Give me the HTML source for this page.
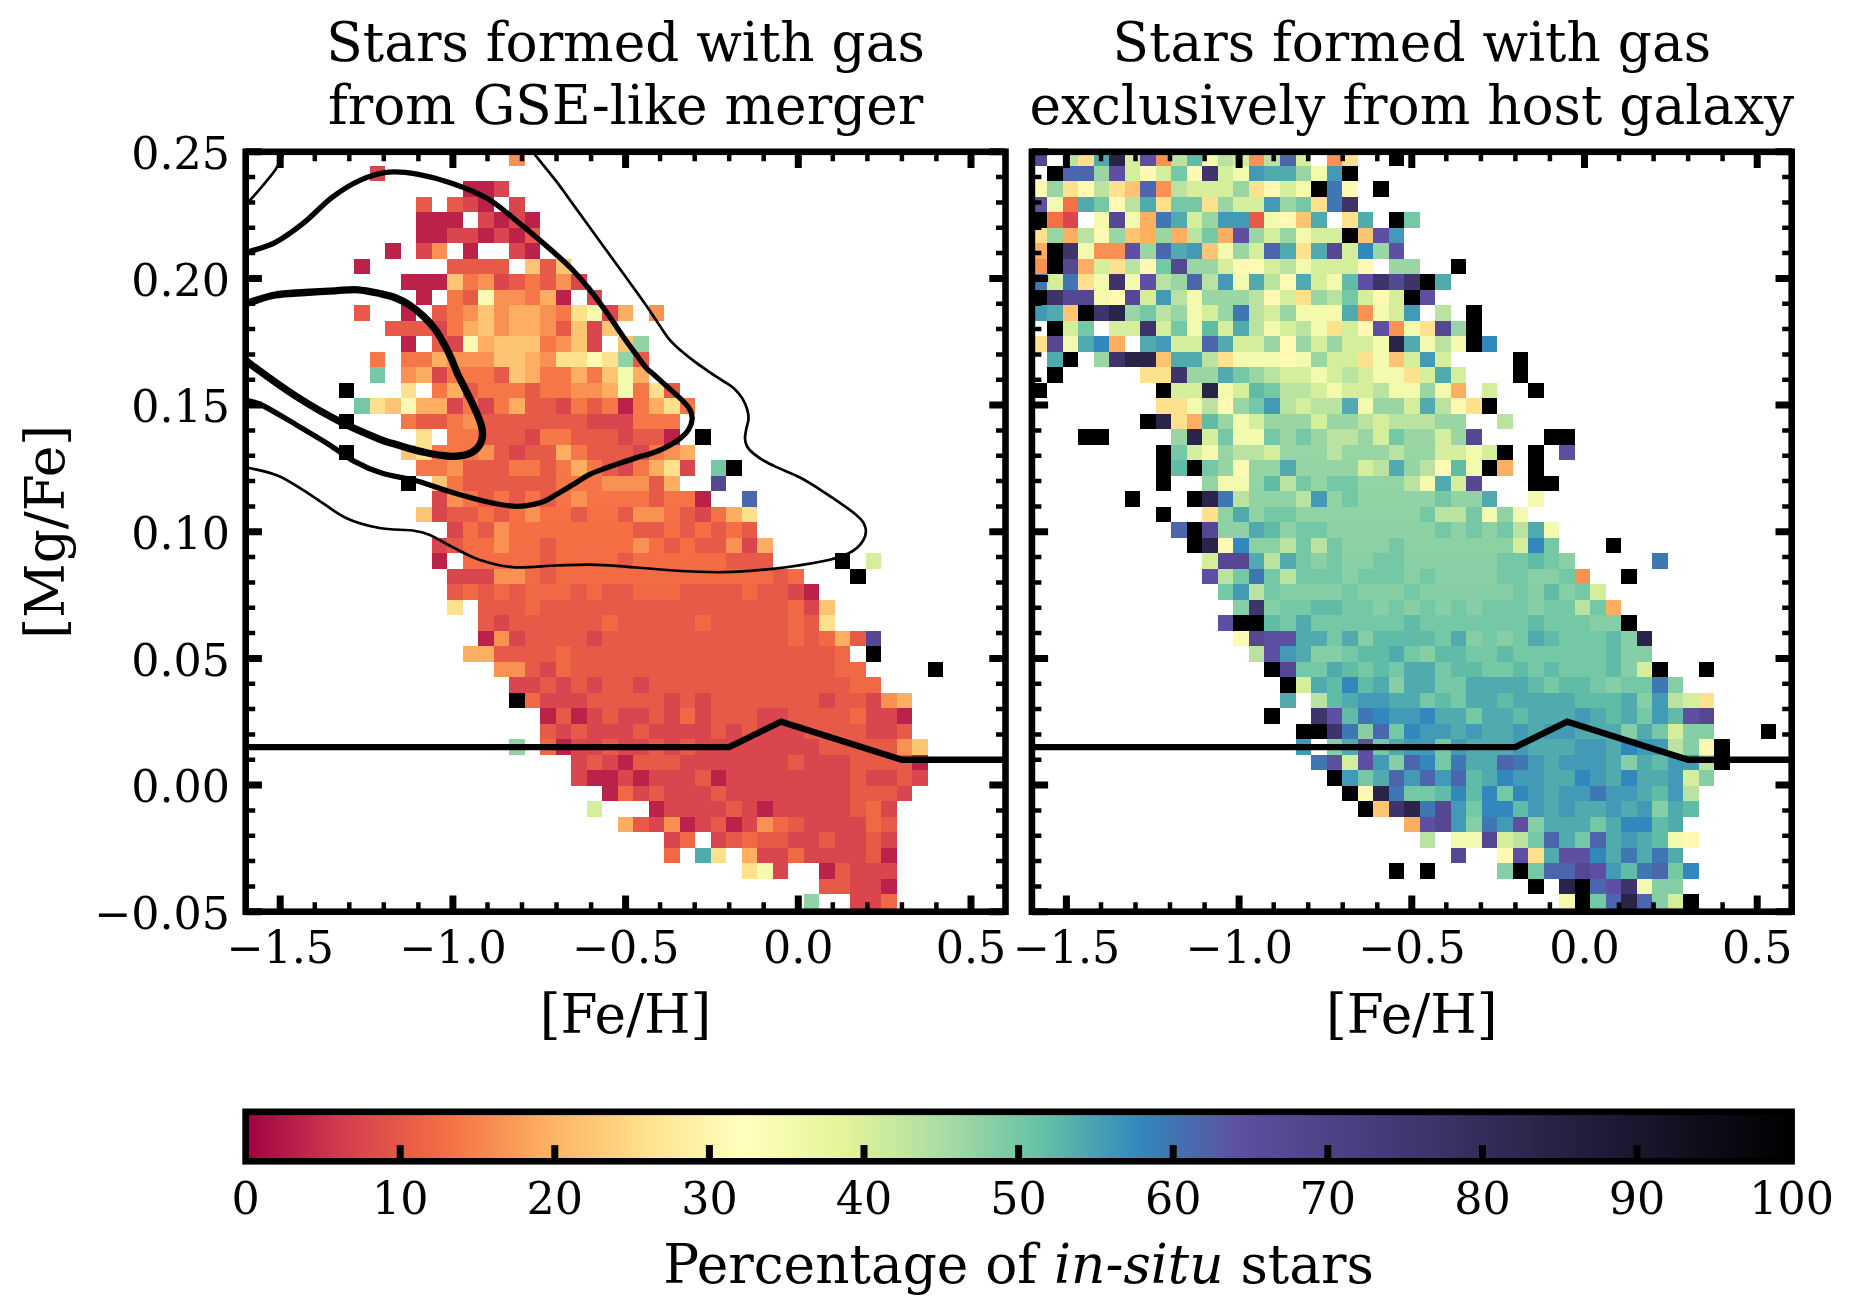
<!DOCTYPE html>
<html><head><meta charset="utf-8"><title>Figure</title>
<style>html,body{margin:0;padding:0;background:#fff}svg{display:block}text{font-family:"DejaVu Serif", "Liberation Serif", serif;fill:#000}</style>
</head><body>
<svg width="1864" height="1303" viewBox="0 0 1864 1303" style="will-change:transform">
<rect width="1864" height="1303" fill="#fff"/>
<text x="625.6" y="60.8" text-anchor="middle" font-size="53.3">Stars formed with gas</text>
<text x="625.6" y="123.8" text-anchor="middle" font-size="53.3">from GSE-like merger</text>
<text x="1411.8" y="60.8" text-anchor="middle" font-size="53.3">Stars formed with gas</text>
<text x="1411.8" y="123.8" text-anchor="middle" font-size="53.3">exclusively from host galaxy</text>
<text transform="translate(63.8 531.8) rotate(-90)" text-anchor="middle" font-size="53.3">[Mg/Fe]</text>
<clipPath id="c1"><rect x="245.7" y="151.8" width="759.8" height="759.9"/></clipPath>
<clipPath id="c2"><rect x="1031.9" y="151.8" width="759.8" height="759.9"/></clipPath>
<g shape-rendering="crispEdges" clip-path="url(#c1)"><rect x="509" y="150" width="16" height="16" fill="#f99153"/>
<rect x="370" y="166" width="15" height="15" fill="#da464d"/>
<rect x="463" y="181" width="31" height="16" fill="#bb2149"/>
<rect x="494" y="181" width="15" height="16" fill="#da464d"/>
<rect x="416" y="197" width="16" height="15" fill="#e75a48"/>
<rect x="447" y="197" width="16" height="15" fill="#e75a48"/>
<rect x="463" y="197" width="15" height="15" fill="#da464d"/>
<rect x="478" y="197" width="16" height="15" fill="#bb2149"/>
<rect x="509" y="197" width="16" height="15" fill="#da464d"/>
<rect x="416" y="212" width="47" height="16" fill="#bb2149"/>
<rect x="478" y="212" width="16" height="16" fill="#da464d"/>
<rect x="494" y="212" width="15" height="16" fill="#bb2149"/>
<rect x="509" y="212" width="16" height="16" fill="#da464d"/>
<rect x="525" y="212" width="15" height="16" fill="#bb2149"/>
<rect x="416" y="228" width="31" height="15" fill="#bb2149"/>
<rect x="447" y="228" width="31" height="15" fill="#da464d"/>
<rect x="478" y="228" width="16" height="15" fill="#bb2149"/>
<rect x="494" y="228" width="15" height="15" fill="#da464d"/>
<rect x="509" y="228" width="16" height="15" fill="#bb2149"/>
<rect x="525" y="228" width="15" height="15" fill="#e75a48"/>
<rect x="385" y="243" width="16" height="16" fill="#bb2149"/>
<rect x="416" y="243" width="16" height="16" fill="#da464d"/>
<rect x="432" y="243" width="15" height="16" fill="#f99153"/>
<rect x="463" y="243" width="15" height="16" fill="#bb2149"/>
<rect x="509" y="243" width="16" height="16" fill="#da464d"/>
<rect x="525" y="243" width="15" height="16" fill="#bb2149"/>
<rect x="354" y="259" width="16" height="15" fill="#bb2149"/>
<rect x="447" y="259" width="62" height="15" fill="#e75a48"/>
<rect x="525" y="259" width="15" height="15" fill="#fdc474"/>
<rect x="540" y="259" width="16" height="15" fill="#e75a48"/>
<rect x="556" y="259" width="15" height="15" fill="#fdc474"/>
<rect x="401" y="274" width="46" height="16" fill="#bb2149"/>
<rect x="447" y="274" width="16" height="16" fill="#fdc474"/>
<rect x="463" y="274" width="15" height="16" fill="#f57647"/>
<rect x="478" y="274" width="16" height="16" fill="#f99153"/>
<rect x="494" y="274" width="15" height="16" fill="#da464d"/>
<rect x="509" y="274" width="16" height="16" fill="#e75a48"/>
<rect x="525" y="274" width="15" height="16" fill="#f57647"/>
<rect x="540" y="274" width="16" height="16" fill="#e75a48"/>
<rect x="556" y="274" width="15" height="16" fill="#f99153"/>
<rect x="571" y="274" width="16" height="16" fill="#da464d"/>
<rect x="416" y="290" width="16" height="15" fill="#bb2149"/>
<rect x="447" y="290" width="16" height="15" fill="#f57647"/>
<rect x="463" y="290" width="15" height="15" fill="#e75a48"/>
<rect x="478" y="290" width="16" height="15" fill="#fff9b4"/>
<rect x="494" y="290" width="31" height="15" fill="#f99153"/>
<rect x="525" y="290" width="15" height="15" fill="#f57647"/>
<rect x="540" y="290" width="16" height="15" fill="#fdae61"/>
<rect x="556" y="290" width="15" height="15" fill="#bb2149"/>
<rect x="587" y="290" width="15" height="15" fill="#da464d"/>
<rect x="354" y="305" width="16" height="16" fill="#e75a48"/>
<rect x="401" y="305" width="15" height="16" fill="#bb2149"/>
<rect x="432" y="305" width="15" height="16" fill="#e75a48"/>
<rect x="447" y="305" width="16" height="16" fill="#f57647"/>
<rect x="463" y="305" width="15" height="16" fill="#f99153"/>
<rect x="478" y="305" width="16" height="16" fill="#fdc474"/>
<rect x="494" y="305" width="15" height="16" fill="#f99153"/>
<rect x="509" y="305" width="31" height="16" fill="#fdae61"/>
<rect x="540" y="305" width="16" height="16" fill="#f99153"/>
<rect x="556" y="305" width="15" height="16" fill="#f57647"/>
<rect x="571" y="305" width="16" height="16" fill="#fee18d"/>
<rect x="587" y="305" width="15" height="16" fill="#f3faad"/>
<rect x="602" y="305" width="16" height="16" fill="#da464d"/>
<rect x="618" y="305" width="15" height="16" fill="#fdae61"/>
<rect x="649" y="305" width="15" height="16" fill="#f99153"/>
<rect x="385" y="321" width="47" height="15" fill="#e75a48"/>
<rect x="432" y="321" width="15" height="15" fill="#da464d"/>
<rect x="447" y="321" width="16" height="15" fill="#f57647"/>
<rect x="463" y="321" width="15" height="15" fill="#fdae61"/>
<rect x="478" y="321" width="16" height="15" fill="#fdc474"/>
<rect x="494" y="321" width="15" height="15" fill="#f99153"/>
<rect x="509" y="321" width="31" height="15" fill="#fdae61"/>
<rect x="540" y="321" width="16" height="15" fill="#f99153"/>
<rect x="556" y="321" width="15" height="15" fill="#e75a48"/>
<rect x="571" y="321" width="16" height="15" fill="#fdc474"/>
<rect x="587" y="321" width="15" height="15" fill="#da464d"/>
<rect x="602" y="321" width="16" height="15" fill="#fdc474"/>
<rect x="401" y="336" width="15" height="16" fill="#bb2149"/>
<rect x="432" y="336" width="15" height="16" fill="#e75a48"/>
<rect x="447" y="336" width="16" height="16" fill="#da464d"/>
<rect x="463" y="336" width="15" height="16" fill="#fff9b4"/>
<rect x="478" y="336" width="16" height="16" fill="#fdae61"/>
<rect x="494" y="336" width="46" height="16" fill="#fdc474"/>
<rect x="540" y="336" width="16" height="16" fill="#f57647"/>
<rect x="556" y="336" width="15" height="16" fill="#f99153"/>
<rect x="571" y="336" width="16" height="16" fill="#fdc474"/>
<rect x="587" y="336" width="15" height="16" fill="#da464d"/>
<rect x="618" y="336" width="15" height="16" fill="#fdc474"/>
<rect x="633" y="336" width="16" height="16" fill="#91d3a4"/>
<rect x="370" y="352" width="15" height="15" fill="#f57647"/>
<rect x="401" y="352" width="31" height="15" fill="#f57647"/>
<rect x="432" y="352" width="15" height="15" fill="#fdae61"/>
<rect x="447" y="352" width="47" height="15" fill="#f99153"/>
<rect x="494" y="352" width="31" height="15" fill="#fdc474"/>
<rect x="525" y="352" width="15" height="15" fill="#fdae61"/>
<rect x="540" y="352" width="16" height="15" fill="#f99153"/>
<rect x="556" y="352" width="31" height="15" fill="#fee18d"/>
<rect x="587" y="352" width="15" height="15" fill="#fff9b4"/>
<rect x="602" y="352" width="16" height="15" fill="#fee18d"/>
<rect x="618" y="352" width="15" height="15" fill="#91d3a4"/>
<rect x="633" y="352" width="16" height="15" fill="#e75a48"/>
<rect x="370" y="367" width="15" height="16" fill="#75c8a5"/>
<rect x="401" y="367" width="15" height="16" fill="#f99153"/>
<rect x="416" y="367" width="16" height="16" fill="#fdae61"/>
<rect x="432" y="367" width="15" height="16" fill="#da464d"/>
<rect x="447" y="367" width="47" height="16" fill="#f57647"/>
<rect x="494" y="367" width="15" height="16" fill="#e75a48"/>
<rect x="509" y="367" width="16" height="16" fill="#fdc474"/>
<rect x="525" y="367" width="15" height="16" fill="#fdae61"/>
<rect x="540" y="367" width="31" height="16" fill="#f57647"/>
<rect x="571" y="367" width="16" height="16" fill="#fdae61"/>
<rect x="587" y="367" width="15" height="16" fill="#f57647"/>
<rect x="602" y="367" width="16" height="16" fill="#fdc474"/>
<rect x="618" y="367" width="15" height="16" fill="#f3faad"/>
<rect x="633" y="367" width="16" height="16" fill="#fdae61"/>
<rect x="339" y="383" width="15" height="15" fill="#000000"/>
<rect x="401" y="383" width="15" height="15" fill="#fee18d"/>
<rect x="432" y="383" width="15" height="15" fill="#f57647"/>
<rect x="447" y="383" width="16" height="15" fill="#fdae61"/>
<rect x="463" y="383" width="15" height="15" fill="#e75a48"/>
<rect x="478" y="383" width="47" height="15" fill="#f57647"/>
<rect x="525" y="383" width="15" height="15" fill="#e75a48"/>
<rect x="540" y="383" width="31" height="15" fill="#f57647"/>
<rect x="571" y="383" width="31" height="15" fill="#f99153"/>
<rect x="602" y="383" width="16" height="15" fill="#fdae61"/>
<rect x="618" y="383" width="15" height="15" fill="#f3faad"/>
<rect x="633" y="383" width="16" height="15" fill="#f57647"/>
<rect x="649" y="383" width="15" height="15" fill="#fee18d"/>
<rect x="664" y="383" width="16" height="15" fill="#e75a48"/>
<rect x="354" y="398" width="16" height="16" fill="#75c8a5"/>
<rect x="370" y="398" width="15" height="16" fill="#fee18d"/>
<rect x="385" y="398" width="16" height="16" fill="#fdc474"/>
<rect x="401" y="398" width="15" height="16" fill="#fff9b4"/>
<rect x="416" y="398" width="31" height="16" fill="#fdae61"/>
<rect x="447" y="398" width="16" height="16" fill="#da464d"/>
<rect x="463" y="398" width="15" height="16" fill="#f57647"/>
<rect x="478" y="398" width="16" height="16" fill="#da464d"/>
<rect x="494" y="398" width="15" height="16" fill="#f57647"/>
<rect x="509" y="398" width="16" height="16" fill="#fdae61"/>
<rect x="525" y="398" width="31" height="16" fill="#e75a48"/>
<rect x="556" y="398" width="15" height="16" fill="#da464d"/>
<rect x="571" y="398" width="16" height="16" fill="#f57647"/>
<rect x="587" y="398" width="15" height="16" fill="#e75a48"/>
<rect x="602" y="398" width="16" height="16" fill="#f57647"/>
<rect x="618" y="398" width="15" height="16" fill="#bb2149"/>
<rect x="633" y="398" width="16" height="16" fill="#f57647"/>
<rect x="649" y="398" width="15" height="16" fill="#fdae61"/>
<rect x="664" y="398" width="16" height="16" fill="#fee18d"/>
<rect x="680" y="398" width="15" height="16" fill="#f57647"/>
<rect x="339" y="414" width="15" height="15" fill="#000000"/>
<rect x="401" y="414" width="15" height="15" fill="#f57647"/>
<rect x="416" y="414" width="31" height="15" fill="#e75a48"/>
<rect x="447" y="414" width="16" height="15" fill="#f57647"/>
<rect x="463" y="414" width="15" height="15" fill="#f99153"/>
<rect x="478" y="414" width="109" height="15" fill="#e75a48"/>
<rect x="587" y="414" width="46" height="15" fill="#da464d"/>
<rect x="633" y="414" width="47" height="15" fill="#f57647"/>
<rect x="416" y="429" width="16" height="16" fill="#fee18d"/>
<rect x="447" y="429" width="31" height="16" fill="#f57647"/>
<rect x="478" y="429" width="47" height="16" fill="#e75a48"/>
<rect x="525" y="429" width="15" height="16" fill="#da464d"/>
<rect x="540" y="429" width="31" height="16" fill="#f57647"/>
<rect x="571" y="429" width="47" height="16" fill="#e75a48"/>
<rect x="618" y="429" width="15" height="16" fill="#da464d"/>
<rect x="633" y="429" width="31" height="16" fill="#e75a48"/>
<rect x="664" y="429" width="16" height="16" fill="#bb2149"/>
<rect x="695" y="429" width="16" height="16" fill="#000000"/>
<rect x="339" y="445" width="15" height="15" fill="#000000"/>
<rect x="401" y="445" width="15" height="15" fill="#fdc474"/>
<rect x="416" y="445" width="16" height="15" fill="#fee18d"/>
<rect x="432" y="445" width="46" height="15" fill="#f57647"/>
<rect x="478" y="445" width="16" height="15" fill="#f99153"/>
<rect x="494" y="445" width="15" height="15" fill="#e75a48"/>
<rect x="509" y="445" width="16" height="15" fill="#da464d"/>
<rect x="525" y="445" width="31" height="15" fill="#e75a48"/>
<rect x="556" y="445" width="15" height="15" fill="#fdae61"/>
<rect x="571" y="445" width="16" height="15" fill="#f57647"/>
<rect x="587" y="445" width="46" height="15" fill="#e75a48"/>
<rect x="633" y="445" width="16" height="15" fill="#da464d"/>
<rect x="649" y="445" width="15" height="15" fill="#f57647"/>
<rect x="664" y="445" width="16" height="15" fill="#f99153"/>
<rect x="680" y="445" width="15" height="15" fill="#fdae61"/>
<rect x="416" y="460" width="31" height="16" fill="#f57647"/>
<rect x="447" y="460" width="16" height="16" fill="#f99153"/>
<rect x="463" y="460" width="46" height="16" fill="#e75a48"/>
<rect x="509" y="460" width="31" height="16" fill="#f57647"/>
<rect x="540" y="460" width="16" height="16" fill="#e75a48"/>
<rect x="556" y="460" width="15" height="16" fill="#f57647"/>
<rect x="571" y="460" width="16" height="16" fill="#fdae61"/>
<rect x="587" y="460" width="15" height="16" fill="#f57647"/>
<rect x="602" y="460" width="16" height="16" fill="#e75a48"/>
<rect x="618" y="460" width="15" height="16" fill="#da464d"/>
<rect x="633" y="460" width="16" height="16" fill="#f57647"/>
<rect x="649" y="460" width="15" height="16" fill="#fdae61"/>
<rect x="664" y="460" width="16" height="16" fill="#fee18d"/>
<rect x="680" y="460" width="15" height="16" fill="#da464d"/>
<rect x="711" y="460" width="15" height="16" fill="#75c8a5"/>
<rect x="726" y="460" width="16" height="16" fill="#000000"/>
<rect x="401" y="476" width="15" height="15" fill="#000000"/>
<rect x="432" y="476" width="15" height="15" fill="#fdc474"/>
<rect x="447" y="476" width="16" height="15" fill="#f57546"/>
<rect x="463" y="476" width="93" height="15" fill="#e75a48"/>
<rect x="556" y="476" width="46" height="15" fill="#f57546"/>
<rect x="602" y="476" width="47" height="15" fill="#f99153"/>
<rect x="649" y="476" width="15" height="15" fill="#e75a48"/>
<rect x="664" y="476" width="16" height="15" fill="#fdae61"/>
<rect x="711" y="476" width="15" height="15" fill="#554792"/>
<rect x="432" y="491" width="15" height="16" fill="#da464d"/>
<rect x="447" y="491" width="16" height="16" fill="#f99153"/>
<rect x="463" y="491" width="15" height="16" fill="#f57346"/>
<rect x="478" y="491" width="16" height="16" fill="#e75a48"/>
<rect x="494" y="491" width="15" height="16" fill="#f57346"/>
<rect x="509" y="491" width="16" height="16" fill="#e75a48"/>
<rect x="525" y="491" width="15" height="16" fill="#f57346"/>
<rect x="540" y="491" width="16" height="16" fill="#e75a48"/>
<rect x="556" y="491" width="15" height="16" fill="#f57346"/>
<rect x="571" y="491" width="16" height="16" fill="#f99153"/>
<rect x="587" y="491" width="62" height="16" fill="#f57346"/>
<rect x="649" y="491" width="15" height="16" fill="#e75a48"/>
<rect x="664" y="491" width="31" height="16" fill="#f57346"/>
<rect x="695" y="491" width="16" height="16" fill="#bb2149"/>
<rect x="742" y="491" width="15" height="16" fill="#4c66ad"/>
<rect x="416" y="507" width="16" height="15" fill="#fdc474"/>
<rect x="432" y="507" width="15" height="15" fill="#da464d"/>
<rect x="447" y="507" width="31" height="15" fill="#e75a48"/>
<rect x="478" y="507" width="16" height="15" fill="#f57145"/>
<rect x="494" y="507" width="15" height="15" fill="#e75a48"/>
<rect x="509" y="507" width="16" height="15" fill="#f57145"/>
<rect x="525" y="507" width="15" height="15" fill="#f99153"/>
<rect x="540" y="507" width="31" height="15" fill="#f57145"/>
<rect x="571" y="507" width="16" height="15" fill="#e75a48"/>
<rect x="587" y="507" width="31" height="15" fill="#f57145"/>
<rect x="618" y="507" width="15" height="15" fill="#e75a48"/>
<rect x="633" y="507" width="31" height="15" fill="#f99153"/>
<rect x="664" y="507" width="16" height="15" fill="#f57145"/>
<rect x="680" y="507" width="15" height="15" fill="#e75a48"/>
<rect x="695" y="507" width="16" height="15" fill="#da464d"/>
<rect x="711" y="507" width="15" height="15" fill="#f57145"/>
<rect x="726" y="507" width="16" height="15" fill="#fdae61"/>
<rect x="742" y="507" width="15" height="15" fill="#fee18d"/>
<rect x="447" y="522" width="16" height="16" fill="#da464d"/>
<rect x="463" y="522" width="15" height="16" fill="#f46f44"/>
<rect x="478" y="522" width="16" height="16" fill="#e75a48"/>
<rect x="494" y="522" width="15" height="16" fill="#f99153"/>
<rect x="509" y="522" width="124" height="16" fill="#f46f44"/>
<rect x="633" y="522" width="31" height="16" fill="#e75a48"/>
<rect x="664" y="522" width="16" height="16" fill="#f46f44"/>
<rect x="680" y="522" width="15" height="16" fill="#e75a48"/>
<rect x="695" y="522" width="16" height="16" fill="#f46f44"/>
<rect x="711" y="522" width="15" height="16" fill="#e75a48"/>
<rect x="726" y="522" width="16" height="16" fill="#f46f44"/>
<rect x="742" y="522" width="15" height="16" fill="#e75a48"/>
<rect x="432" y="538" width="15" height="15" fill="#da464d"/>
<rect x="447" y="538" width="16" height="15" fill="#e75a48"/>
<rect x="463" y="538" width="31" height="15" fill="#f46d43"/>
<rect x="494" y="538" width="15" height="15" fill="#f99153"/>
<rect x="509" y="538" width="31" height="15" fill="#f46d43"/>
<rect x="540" y="538" width="16" height="15" fill="#e75a48"/>
<rect x="556" y="538" width="77" height="15" fill="#f46d43"/>
<rect x="633" y="538" width="16" height="15" fill="#f99153"/>
<rect x="649" y="538" width="15" height="15" fill="#f46d43"/>
<rect x="664" y="538" width="16" height="15" fill="#e75a48"/>
<rect x="680" y="538" width="15" height="15" fill="#f46d43"/>
<rect x="695" y="538" width="31" height="15" fill="#e75a48"/>
<rect x="726" y="538" width="16" height="15" fill="#f99153"/>
<rect x="742" y="538" width="15" height="15" fill="#da464d"/>
<rect x="757" y="538" width="16" height="15" fill="#fdae61"/>
<rect x="432" y="553" width="15" height="16" fill="#bb2149"/>
<rect x="463" y="553" width="77" height="16" fill="#f36c43"/>
<rect x="540" y="553" width="16" height="16" fill="#e75a48"/>
<rect x="556" y="553" width="62" height="16" fill="#f36c43"/>
<rect x="618" y="553" width="15" height="16" fill="#e75a48"/>
<rect x="633" y="553" width="93" height="16" fill="#f36c43"/>
<rect x="726" y="553" width="47" height="16" fill="#e75a48"/>
<rect x="835" y="553" width="15" height="16" fill="#000000"/>
<rect x="866" y="553" width="15" height="16" fill="#d4ee9c"/>
<rect x="447" y="569" width="47" height="15" fill="#da464d"/>
<rect x="494" y="569" width="31" height="15" fill="#f99153"/>
<rect x="525" y="569" width="15" height="15" fill="#f26b44"/>
<rect x="540" y="569" width="16" height="15" fill="#e75a48"/>
<rect x="556" y="569" width="217" height="15" fill="#f26b44"/>
<rect x="773" y="569" width="15" height="15" fill="#e75a48"/>
<rect x="788" y="569" width="16" height="15" fill="#f26b44"/>
<rect x="850" y="569" width="16" height="15" fill="#000000"/>
<rect x="447" y="584" width="16" height="16" fill="#e75a48"/>
<rect x="463" y="584" width="15" height="16" fill="#f16944"/>
<rect x="478" y="584" width="16" height="16" fill="#e75a48"/>
<rect x="494" y="584" width="15" height="16" fill="#f16944"/>
<rect x="509" y="584" width="16" height="16" fill="#e75a48"/>
<rect x="525" y="584" width="46" height="16" fill="#f16944"/>
<rect x="571" y="584" width="16" height="16" fill="#e75a48"/>
<rect x="587" y="584" width="15" height="16" fill="#f16944"/>
<rect x="602" y="584" width="31" height="16" fill="#e75a48"/>
<rect x="633" y="584" width="47" height="16" fill="#f16944"/>
<rect x="680" y="584" width="62" height="16" fill="#e75a48"/>
<rect x="742" y="584" width="15" height="16" fill="#f16944"/>
<rect x="757" y="584" width="31" height="16" fill="#e75a48"/>
<rect x="788" y="584" width="16" height="16" fill="#da464d"/>
<rect x="804" y="584" width="15" height="16" fill="#bb2149"/>
<rect x="447" y="600" width="16" height="15" fill="#fee18d"/>
<rect x="478" y="600" width="47" height="15" fill="#e75a48"/>
<rect x="525" y="600" width="15" height="15" fill="#f16944"/>
<rect x="540" y="600" width="248" height="15" fill="#e75a48"/>
<rect x="788" y="600" width="16" height="15" fill="#f16944"/>
<rect x="804" y="600" width="15" height="15" fill="#da464d"/>
<rect x="819" y="600" width="16" height="15" fill="#fdc474"/>
<rect x="478" y="615" width="16" height="16" fill="#e75a48"/>
<rect x="494" y="615" width="15" height="16" fill="#da464d"/>
<rect x="509" y="615" width="93" height="16" fill="#e75a48"/>
<rect x="602" y="615" width="16" height="16" fill="#f16944"/>
<rect x="618" y="615" width="77" height="16" fill="#e75a48"/>
<rect x="695" y="615" width="16" height="16" fill="#f16944"/>
<rect x="711" y="615" width="77" height="16" fill="#e75a48"/>
<rect x="788" y="615" width="16" height="16" fill="#f16944"/>
<rect x="804" y="615" width="15" height="16" fill="#e75a48"/>
<rect x="819" y="615" width="16" height="16" fill="#fee18d"/>
<rect x="478" y="631" width="16" height="15" fill="#bb2149"/>
<rect x="494" y="631" width="15" height="15" fill="#f99153"/>
<rect x="509" y="631" width="16" height="15" fill="#da464d"/>
<rect x="525" y="631" width="62" height="15" fill="#e75a48"/>
<rect x="587" y="631" width="15" height="15" fill="#da464d"/>
<rect x="602" y="631" width="186" height="15" fill="#e75a48"/>
<rect x="788" y="631" width="16" height="15" fill="#f16944"/>
<rect x="804" y="631" width="15" height="15" fill="#e75a48"/>
<rect x="819" y="631" width="16" height="15" fill="#f16944"/>
<rect x="835" y="631" width="15" height="15" fill="#fdae61"/>
<rect x="850" y="631" width="16" height="15" fill="#e75a48"/>
<rect x="866" y="631" width="15" height="15" fill="#554792"/>
<rect x="463" y="646" width="31" height="16" fill="#fdae61"/>
<rect x="494" y="646" width="62" height="16" fill="#e75a48"/>
<rect x="556" y="646" width="15" height="16" fill="#f16944"/>
<rect x="571" y="646" width="264" height="16" fill="#e75a48"/>
<rect x="835" y="646" width="15" height="16" fill="#f16944"/>
<rect x="866" y="646" width="15" height="16" fill="#000000"/>
<rect x="494" y="662" width="31" height="15" fill="#f99153"/>
<rect x="525" y="662" width="15" height="15" fill="#e75a48"/>
<rect x="540" y="662" width="16" height="15" fill="#da464d"/>
<rect x="556" y="662" width="15" height="15" fill="#f16944"/>
<rect x="571" y="662" width="264" height="15" fill="#e75a48"/>
<rect x="835" y="662" width="31" height="15" fill="#f16944"/>
<rect x="928" y="662" width="15" height="15" fill="#000000"/>
<rect x="509" y="677" width="31" height="16" fill="#da464d"/>
<rect x="540" y="677" width="16" height="16" fill="#e75a48"/>
<rect x="556" y="677" width="15" height="16" fill="#da464d"/>
<rect x="571" y="677" width="16" height="16" fill="#e75a48"/>
<rect x="587" y="677" width="15" height="16" fill="#da464d"/>
<rect x="602" y="677" width="31" height="16" fill="#e75a48"/>
<rect x="633" y="677" width="16" height="16" fill="#da464d"/>
<rect x="649" y="677" width="201" height="16" fill="#e75a48"/>
<rect x="850" y="677" width="31" height="16" fill="#f16944"/>
<rect x="509" y="693" width="16" height="15" fill="#000000"/>
<rect x="525" y="693" width="15" height="15" fill="#f16944"/>
<rect x="540" y="693" width="47" height="15" fill="#da464d"/>
<rect x="587" y="693" width="77" height="15" fill="#e75a48"/>
<rect x="664" y="693" width="16" height="15" fill="#da464d"/>
<rect x="680" y="693" width="15" height="15" fill="#e75a48"/>
<rect x="695" y="693" width="16" height="15" fill="#da464d"/>
<rect x="711" y="693" width="108" height="15" fill="#e75a48"/>
<rect x="819" y="693" width="16" height="15" fill="#da464d"/>
<rect x="835" y="693" width="31" height="15" fill="#e75a48"/>
<rect x="866" y="693" width="15" height="15" fill="#da464d"/>
<rect x="881" y="693" width="16" height="15" fill="#f99153"/>
<rect x="897" y="693" width="15" height="15" fill="#fdae61"/>
<rect x="540" y="708" width="16" height="16" fill="#bb2149"/>
<rect x="556" y="708" width="15" height="16" fill="#e75a48"/>
<rect x="571" y="708" width="16" height="16" fill="#bb2149"/>
<rect x="587" y="708" width="15" height="16" fill="#da464d"/>
<rect x="602" y="708" width="16" height="16" fill="#e75a48"/>
<rect x="618" y="708" width="31" height="16" fill="#da464d"/>
<rect x="649" y="708" width="15" height="16" fill="#e75a48"/>
<rect x="664" y="708" width="16" height="16" fill="#da464d"/>
<rect x="680" y="708" width="15" height="16" fill="#f16944"/>
<rect x="695" y="708" width="16" height="16" fill="#da464d"/>
<rect x="711" y="708" width="46" height="16" fill="#e75a48"/>
<rect x="757" y="708" width="31" height="16" fill="#da464d"/>
<rect x="788" y="708" width="62" height="16" fill="#e75a48"/>
<rect x="850" y="708" width="16" height="16" fill="#f16944"/>
<rect x="866" y="708" width="31" height="16" fill="#da464d"/>
<rect x="897" y="708" width="15" height="16" fill="#bb2149"/>
<rect x="540" y="724" width="16" height="15" fill="#e75a48"/>
<rect x="556" y="724" width="15" height="15" fill="#da464d"/>
<rect x="571" y="724" width="16" height="15" fill="#e75a48"/>
<rect x="587" y="724" width="46" height="15" fill="#da464d"/>
<rect x="633" y="724" width="16" height="15" fill="#e75a48"/>
<rect x="649" y="724" width="62" height="15" fill="#da464d"/>
<rect x="711" y="724" width="15" height="15" fill="#e75a48"/>
<rect x="726" y="724" width="16" height="15" fill="#da464d"/>
<rect x="742" y="724" width="15" height="15" fill="#e75a48"/>
<rect x="757" y="724" width="47" height="15" fill="#da464d"/>
<rect x="804" y="724" width="62" height="15" fill="#e75a48"/>
<rect x="866" y="724" width="31" height="15" fill="#da464d"/>
<rect x="897" y="724" width="15" height="15" fill="#e75a48"/>
<rect x="509" y="739" width="16" height="16" fill="#91d3a4"/>
<rect x="540" y="739" width="16" height="16" fill="#f16944"/>
<rect x="556" y="739" width="15" height="16" fill="#bb2149"/>
<rect x="571" y="739" width="31" height="16" fill="#da464d"/>
<rect x="602" y="739" width="16" height="16" fill="#e75a48"/>
<rect x="618" y="739" width="31" height="16" fill="#da464d"/>
<rect x="649" y="739" width="15" height="16" fill="#e75a48"/>
<rect x="664" y="739" width="16" height="16" fill="#da464d"/>
<rect x="680" y="739" width="15" height="16" fill="#e75a48"/>
<rect x="695" y="739" width="124" height="16" fill="#da464d"/>
<rect x="819" y="739" width="78" height="16" fill="#e75a48"/>
<rect x="897" y="739" width="15" height="16" fill="#f99153"/>
<rect x="912" y="739" width="16" height="16" fill="#fdc474"/>
<rect x="571" y="755" width="16" height="15" fill="#da464d"/>
<rect x="587" y="755" width="15" height="15" fill="#e75a48"/>
<rect x="602" y="755" width="16" height="15" fill="#da464d"/>
<rect x="618" y="755" width="15" height="15" fill="#bb2149"/>
<rect x="633" y="755" width="47" height="15" fill="#e75a48"/>
<rect x="680" y="755" width="108" height="15" fill="#da464d"/>
<rect x="788" y="755" width="16" height="15" fill="#e75a48"/>
<rect x="804" y="755" width="46" height="15" fill="#da464d"/>
<rect x="850" y="755" width="62" height="15" fill="#e75a48"/>
<rect x="912" y="755" width="16" height="15" fill="#bb2149"/>
<rect x="571" y="770" width="16" height="16" fill="#da464d"/>
<rect x="587" y="770" width="31" height="16" fill="#bb2149"/>
<rect x="618" y="770" width="15" height="16" fill="#da464d"/>
<rect x="633" y="770" width="16" height="16" fill="#bb2149"/>
<rect x="649" y="770" width="46" height="16" fill="#da464d"/>
<rect x="695" y="770" width="16" height="16" fill="#e75a48"/>
<rect x="711" y="770" width="15" height="16" fill="#bb2149"/>
<rect x="726" y="770" width="124" height="16" fill="#da464d"/>
<rect x="850" y="770" width="16" height="16" fill="#e75a48"/>
<rect x="866" y="770" width="31" height="16" fill="#da464d"/>
<rect x="897" y="770" width="15" height="16" fill="#e75a48"/>
<rect x="912" y="770" width="16" height="16" fill="#da464d"/>
<rect x="602" y="786" width="16" height="15" fill="#bb2149"/>
<rect x="618" y="786" width="15" height="15" fill="#f16944"/>
<rect x="633" y="786" width="16" height="15" fill="#da464d"/>
<rect x="649" y="786" width="15" height="15" fill="#e75a48"/>
<rect x="664" y="786" width="47" height="15" fill="#da464d"/>
<rect x="711" y="786" width="15" height="15" fill="#e75a48"/>
<rect x="726" y="786" width="124" height="15" fill="#da464d"/>
<rect x="850" y="786" width="47" height="15" fill="#e75a48"/>
<rect x="897" y="786" width="15" height="15" fill="#da464d"/>
<rect x="587" y="801" width="15" height="16" fill="#d4ee9c"/>
<rect x="649" y="801" width="15" height="16" fill="#bb2149"/>
<rect x="664" y="801" width="62" height="16" fill="#da464d"/>
<rect x="726" y="801" width="16" height="16" fill="#e75a48"/>
<rect x="742" y="801" width="15" height="16" fill="#da464d"/>
<rect x="757" y="801" width="16" height="16" fill="#bb2149"/>
<rect x="773" y="801" width="77" height="16" fill="#da464d"/>
<rect x="850" y="801" width="16" height="16" fill="#e75a48"/>
<rect x="866" y="801" width="15" height="16" fill="#f16944"/>
<rect x="881" y="801" width="16" height="16" fill="#da464d"/>
<rect x="618" y="817" width="15" height="15" fill="#fdae61"/>
<rect x="633" y="817" width="16" height="15" fill="#e75a48"/>
<rect x="649" y="817" width="15" height="15" fill="#da464d"/>
<rect x="664" y="817" width="16" height="15" fill="#f99153"/>
<rect x="680" y="817" width="15" height="15" fill="#bb2149"/>
<rect x="695" y="817" width="16" height="15" fill="#da464d"/>
<rect x="711" y="817" width="15" height="15" fill="#e75a48"/>
<rect x="726" y="817" width="16" height="15" fill="#bb2149"/>
<rect x="742" y="817" width="15" height="15" fill="#da464d"/>
<rect x="757" y="817" width="16" height="15" fill="#f99153"/>
<rect x="773" y="817" width="15" height="15" fill="#f16944"/>
<rect x="788" y="817" width="16" height="15" fill="#e75a48"/>
<rect x="804" y="817" width="62" height="15" fill="#da464d"/>
<rect x="866" y="817" width="15" height="15" fill="#f16944"/>
<rect x="881" y="817" width="16" height="15" fill="#e75a48"/>
<rect x="664" y="832" width="16" height="16" fill="#da464d"/>
<rect x="680" y="832" width="15" height="16" fill="#f16944"/>
<rect x="711" y="832" width="15" height="16" fill="#da464d"/>
<rect x="726" y="832" width="16" height="16" fill="#e75a48"/>
<rect x="742" y="832" width="15" height="16" fill="#f16944"/>
<rect x="757" y="832" width="31" height="16" fill="#e75a48"/>
<rect x="788" y="832" width="31" height="16" fill="#da464d"/>
<rect x="819" y="832" width="16" height="16" fill="#e75a48"/>
<rect x="835" y="832" width="31" height="16" fill="#da464d"/>
<rect x="866" y="832" width="15" height="16" fill="#e75a48"/>
<rect x="881" y="832" width="16" height="16" fill="#da464d"/>
<rect x="664" y="848" width="16" height="15" fill="#f16944"/>
<rect x="695" y="848" width="16" height="15" fill="#51abae"/>
<rect x="711" y="848" width="15" height="15" fill="#fee18d"/>
<rect x="742" y="848" width="15" height="15" fill="#fdae61"/>
<rect x="757" y="848" width="31" height="15" fill="#da464d"/>
<rect x="788" y="848" width="16" height="15" fill="#f16944"/>
<rect x="804" y="848" width="62" height="15" fill="#da464d"/>
<rect x="866" y="848" width="15" height="15" fill="#e75a48"/>
<rect x="881" y="848" width="16" height="15" fill="#bb2149"/>
<rect x="742" y="863" width="15" height="16" fill="#fee18d"/>
<rect x="757" y="863" width="16" height="16" fill="#f3faad"/>
<rect x="773" y="863" width="15" height="16" fill="#da464d"/>
<rect x="819" y="863" width="16" height="16" fill="#bb2149"/>
<rect x="835" y="863" width="15" height="16" fill="#e75a48"/>
<rect x="850" y="863" width="47" height="16" fill="#da464d"/>
<rect x="819" y="879" width="31" height="15" fill="#e75a48"/>
<rect x="850" y="879" width="31" height="15" fill="#da464d"/>
<rect x="881" y="879" width="16" height="15" fill="#bb2149"/>
<rect x="804" y="894" width="15" height="16" fill="#91d3a4"/>
<rect x="850" y="894" width="31" height="16" fill="#da464d"/>
<rect x="881" y="894" width="16" height="16" fill="#f16944"/></g>
<g shape-rendering="crispEdges" clip-path="url(#c2)"><rect x="1032" y="150" width="15" height="16" fill="#554792"/>
<rect x="1063" y="150" width="15" height="16" fill="#bae3a1"/>
<rect x="1078" y="150" width="16" height="16" fill="#fee18d"/>
<rect x="1094" y="150" width="15" height="16" fill="#51abae"/>
<rect x="1109" y="150" width="16" height="16" fill="#2a2449"/>
<rect x="1125" y="150" width="15" height="16" fill="#d4ee9c"/>
<rect x="1140" y="150" width="16" height="16" fill="#5e4fa2"/>
<rect x="1156" y="150" width="15" height="16" fill="#f99153"/>
<rect x="1171" y="150" width="16" height="16" fill="#bae3a1"/>
<rect x="1187" y="150" width="15" height="16" fill="#61bca7"/>
<rect x="1202" y="150" width="16" height="16" fill="#f3faad"/>
<rect x="1218" y="150" width="15" height="16" fill="#bae3a1"/>
<rect x="1233" y="150" width="16" height="16" fill="#d4ee9c"/>
<rect x="1249" y="150" width="15" height="16" fill="#f99153"/>
<rect x="1264" y="150" width="16" height="16" fill="#bae3a1"/>
<rect x="1280" y="150" width="16" height="16" fill="#4c66ad"/>
<rect x="1296" y="150" width="15" height="16" fill="#d4ee9c"/>
<rect x="1327" y="150" width="15" height="16" fill="#f99153"/>
<rect x="1342" y="150" width="16" height="16" fill="#fee18d"/>
<rect x="1389" y="150" width="15" height="16" fill="#000000"/>
<rect x="1047" y="166" width="16" height="15" fill="#000000"/>
<rect x="1063" y="166" width="31" height="15" fill="#4c66ad"/>
<rect x="1094" y="166" width="15" height="15" fill="#99d6a4"/>
<rect x="1109" y="166" width="16" height="15" fill="#5e4fa2"/>
<rect x="1125" y="166" width="15" height="15" fill="#d4ee9c"/>
<rect x="1140" y="166" width="16" height="15" fill="#fff9b4"/>
<rect x="1156" y="166" width="15" height="15" fill="#d4ee9c"/>
<rect x="1171" y="166" width="16" height="15" fill="#75c8a5"/>
<rect x="1187" y="166" width="15" height="15" fill="#fff9b4"/>
<rect x="1202" y="166" width="16" height="15" fill="#3e346b"/>
<rect x="1218" y="166" width="15" height="15" fill="#d4ee9c"/>
<rect x="1233" y="166" width="16" height="15" fill="#f3faad"/>
<rect x="1249" y="166" width="15" height="15" fill="#429ab6"/>
<rect x="1264" y="166" width="32" height="15" fill="#51abae"/>
<rect x="1296" y="166" width="15" height="15" fill="#99d6a4"/>
<rect x="1311" y="166" width="16" height="15" fill="#f3faad"/>
<rect x="1327" y="166" width="15" height="15" fill="#429ab6"/>
<rect x="1342" y="166" width="16" height="15" fill="#000000"/>
<rect x="1032" y="181" width="15" height="16" fill="#fff9b4"/>
<rect x="1047" y="181" width="16" height="16" fill="#99d6a4"/>
<rect x="1063" y="181" width="15" height="16" fill="#fee18d"/>
<rect x="1078" y="181" width="16" height="16" fill="#fff9b4"/>
<rect x="1094" y="181" width="15" height="16" fill="#bae3a1"/>
<rect x="1109" y="181" width="16" height="16" fill="#fee18d"/>
<rect x="1125" y="181" width="15" height="16" fill="#fdc474"/>
<rect x="1140" y="181" width="16" height="16" fill="#4c66ad"/>
<rect x="1156" y="181" width="15" height="16" fill="#f99153"/>
<rect x="1171" y="181" width="16" height="16" fill="#bae3a1"/>
<rect x="1187" y="181" width="46" height="16" fill="#d4ee9c"/>
<rect x="1233" y="181" width="16" height="16" fill="#99d6a4"/>
<rect x="1249" y="181" width="15" height="16" fill="#fee18d"/>
<rect x="1264" y="181" width="16" height="16" fill="#fff9b4"/>
<rect x="1280" y="181" width="16" height="16" fill="#d4ee9c"/>
<rect x="1296" y="181" width="15" height="16" fill="#f3faad"/>
<rect x="1311" y="181" width="16" height="16" fill="#000000"/>
<rect x="1327" y="181" width="15" height="16" fill="#3f77b5"/>
<rect x="1342" y="181" width="16" height="16" fill="#fff9b4"/>
<rect x="1373" y="181" width="16" height="16" fill="#000000"/>
<rect x="1032" y="197" width="15" height="15" fill="#5e4fa2"/>
<rect x="1047" y="197" width="16" height="15" fill="#f3faad"/>
<rect x="1063" y="197" width="15" height="15" fill="#f57145"/>
<rect x="1078" y="197" width="16" height="15" fill="#51abae"/>
<rect x="1094" y="197" width="15" height="15" fill="#75c8a5"/>
<rect x="1109" y="197" width="16" height="15" fill="#fff9b4"/>
<rect x="1125" y="197" width="15" height="15" fill="#bae3a1"/>
<rect x="1140" y="197" width="16" height="15" fill="#51abae"/>
<rect x="1156" y="197" width="15" height="15" fill="#fee18d"/>
<rect x="1171" y="197" width="31" height="15" fill="#75c8a5"/>
<rect x="1202" y="197" width="16" height="15" fill="#fee18d"/>
<rect x="1218" y="197" width="15" height="15" fill="#99d6a4"/>
<rect x="1233" y="197" width="31" height="15" fill="#d4ee9c"/>
<rect x="1264" y="197" width="16" height="15" fill="#429ab6"/>
<rect x="1280" y="197" width="16" height="15" fill="#99d6a4"/>
<rect x="1296" y="197" width="15" height="15" fill="#75c8a5"/>
<rect x="1311" y="197" width="16" height="15" fill="#fee18d"/>
<rect x="1327" y="197" width="15" height="15" fill="#3f77b5"/>
<rect x="1342" y="197" width="16" height="15" fill="#3e346b"/>
<rect x="1032" y="212" width="15" height="16" fill="#000000"/>
<rect x="1047" y="212" width="16" height="16" fill="#f57145"/>
<rect x="1063" y="212" width="15" height="16" fill="#da464d"/>
<rect x="1094" y="212" width="15" height="16" fill="#f3faad"/>
<rect x="1109" y="212" width="16" height="16" fill="#554792"/>
<rect x="1125" y="212" width="15" height="16" fill="#f3faad"/>
<rect x="1140" y="212" width="16" height="16" fill="#fdae61"/>
<rect x="1156" y="212" width="15" height="16" fill="#3f77b5"/>
<rect x="1171" y="212" width="16" height="16" fill="#51abae"/>
<rect x="1187" y="212" width="15" height="16" fill="#d4ee9c"/>
<rect x="1202" y="212" width="16" height="16" fill="#99d6a4"/>
<rect x="1218" y="212" width="31" height="16" fill="#429ab6"/>
<rect x="1249" y="212" width="15" height="16" fill="#e75a48"/>
<rect x="1264" y="212" width="16" height="16" fill="#f3faad"/>
<rect x="1280" y="212" width="16" height="16" fill="#fff9b4"/>
<rect x="1296" y="212" width="15" height="16" fill="#fdc474"/>
<rect x="1311" y="212" width="16" height="16" fill="#51abae"/>
<rect x="1342" y="212" width="16" height="16" fill="#fee18d"/>
<rect x="1358" y="212" width="15" height="16" fill="#51abae"/>
<rect x="1389" y="212" width="15" height="16" fill="#000000"/>
<rect x="1404" y="212" width="16" height="16" fill="#75c8a5"/>
<rect x="1032" y="228" width="15" height="15" fill="#fee18d"/>
<rect x="1047" y="228" width="16" height="15" fill="#99d6a4"/>
<rect x="1063" y="228" width="15" height="15" fill="#fdae61"/>
<rect x="1078" y="228" width="16" height="15" fill="#bae3a1"/>
<rect x="1094" y="228" width="15" height="15" fill="#fff9b4"/>
<rect x="1109" y="228" width="16" height="15" fill="#99d6a4"/>
<rect x="1125" y="228" width="15" height="15" fill="#fdc474"/>
<rect x="1140" y="228" width="16" height="15" fill="#fdae61"/>
<rect x="1156" y="228" width="15" height="15" fill="#99d6a4"/>
<rect x="1171" y="228" width="16" height="15" fill="#fdae61"/>
<rect x="1187" y="228" width="15" height="15" fill="#bae3a1"/>
<rect x="1202" y="228" width="16" height="15" fill="#75c8a5"/>
<rect x="1218" y="228" width="15" height="15" fill="#fdae61"/>
<rect x="1233" y="228" width="16" height="15" fill="#5e4fa2"/>
<rect x="1249" y="228" width="15" height="15" fill="#99d6a4"/>
<rect x="1264" y="228" width="16" height="15" fill="#d4ee9c"/>
<rect x="1280" y="228" width="16" height="15" fill="#99d6a4"/>
<rect x="1296" y="228" width="15" height="15" fill="#f3faad"/>
<rect x="1311" y="228" width="31" height="15" fill="#d4ee9c"/>
<rect x="1342" y="228" width="16" height="15" fill="#000000"/>
<rect x="1358" y="228" width="15" height="15" fill="#fdc474"/>
<rect x="1373" y="228" width="16" height="15" fill="#5e4fa2"/>
<rect x="1389" y="228" width="15" height="15" fill="#429ab6"/>
<rect x="1032" y="243" width="15" height="16" fill="#fdae61"/>
<rect x="1047" y="243" width="16" height="16" fill="#000000"/>
<rect x="1063" y="243" width="15" height="16" fill="#3e346b"/>
<rect x="1078" y="243" width="16" height="16" fill="#f3faad"/>
<rect x="1094" y="243" width="31" height="16" fill="#f99153"/>
<rect x="1125" y="243" width="15" height="16" fill="#5e4fa2"/>
<rect x="1140" y="243" width="16" height="16" fill="#99d6a4"/>
<rect x="1156" y="243" width="15" height="16" fill="#4c66ad"/>
<rect x="1171" y="243" width="16" height="16" fill="#51abae"/>
<rect x="1187" y="243" width="15" height="16" fill="#429ab6"/>
<rect x="1202" y="243" width="16" height="16" fill="#fdc474"/>
<rect x="1218" y="243" width="15" height="16" fill="#f3faad"/>
<rect x="1233" y="243" width="16" height="16" fill="#99d6a4"/>
<rect x="1249" y="243" width="15" height="16" fill="#d4ee9c"/>
<rect x="1264" y="243" width="16" height="16" fill="#4c66ad"/>
<rect x="1280" y="243" width="16" height="16" fill="#51abae"/>
<rect x="1296" y="243" width="15" height="16" fill="#fee18d"/>
<rect x="1311" y="243" width="16" height="16" fill="#51abae"/>
<rect x="1327" y="243" width="15" height="16" fill="#554792"/>
<rect x="1342" y="243" width="16" height="16" fill="#d4ee9c"/>
<rect x="1358" y="243" width="15" height="16" fill="#3288bd"/>
<rect x="1373" y="243" width="16" height="16" fill="#99d6a4"/>
<rect x="1389" y="243" width="15" height="16" fill="#5e4fa2"/>
<rect x="1032" y="259" width="15" height="15" fill="#f99153"/>
<rect x="1047" y="259" width="16" height="15" fill="#000000"/>
<rect x="1063" y="259" width="15" height="15" fill="#554792"/>
<rect x="1078" y="259" width="16" height="15" fill="#fdae61"/>
<rect x="1094" y="259" width="15" height="15" fill="#d4ee9c"/>
<rect x="1109" y="259" width="16" height="15" fill="#fee18d"/>
<rect x="1125" y="259" width="15" height="15" fill="#bae3a1"/>
<rect x="1140" y="259" width="16" height="15" fill="#fff9b4"/>
<rect x="1156" y="259" width="15" height="15" fill="#75c8a5"/>
<rect x="1171" y="259" width="16" height="15" fill="#554792"/>
<rect x="1187" y="259" width="31" height="15" fill="#99d6a4"/>
<rect x="1218" y="259" width="15" height="15" fill="#d4ee9c"/>
<rect x="1233" y="259" width="31" height="15" fill="#fff9b4"/>
<rect x="1264" y="259" width="16" height="15" fill="#d4ee9c"/>
<rect x="1280" y="259" width="16" height="15" fill="#bae3a1"/>
<rect x="1296" y="259" width="15" height="15" fill="#f3faad"/>
<rect x="1311" y="259" width="47" height="15" fill="#d4ee9c"/>
<rect x="1358" y="259" width="15" height="15" fill="#fff9b4"/>
<rect x="1389" y="259" width="31" height="15" fill="#99d6a4"/>
<rect x="1451" y="259" width="15" height="15" fill="#000000"/>
<rect x="1032" y="274" width="15" height="16" fill="#3f77b5"/>
<rect x="1047" y="274" width="16" height="16" fill="#d4ee9c"/>
<rect x="1063" y="274" width="15" height="16" fill="#3f77b5"/>
<rect x="1078" y="274" width="16" height="16" fill="#fee18d"/>
<rect x="1094" y="274" width="15" height="16" fill="#f3faad"/>
<rect x="1109" y="274" width="16" height="16" fill="#3e346b"/>
<rect x="1125" y="274" width="15" height="16" fill="#f3faad"/>
<rect x="1140" y="274" width="16" height="16" fill="#5e4fa2"/>
<rect x="1156" y="274" width="15" height="16" fill="#bae3a1"/>
<rect x="1171" y="274" width="16" height="16" fill="#99d6a4"/>
<rect x="1187" y="274" width="15" height="16" fill="#4c66ad"/>
<rect x="1202" y="274" width="16" height="16" fill="#bae3a1"/>
<rect x="1218" y="274" width="15" height="16" fill="#429ab6"/>
<rect x="1233" y="274" width="16" height="16" fill="#f3faad"/>
<rect x="1249" y="274" width="15" height="16" fill="#51abae"/>
<rect x="1264" y="274" width="16" height="16" fill="#bae3a1"/>
<rect x="1280" y="274" width="16" height="16" fill="#fff9b4"/>
<rect x="1296" y="274" width="15" height="16" fill="#51abae"/>
<rect x="1311" y="274" width="16" height="16" fill="#d4ee9c"/>
<rect x="1327" y="274" width="15" height="16" fill="#f3faad"/>
<rect x="1342" y="274" width="16" height="16" fill="#61bca7"/>
<rect x="1358" y="274" width="15" height="16" fill="#5e4fa2"/>
<rect x="1373" y="274" width="16" height="16" fill="#3e346b"/>
<rect x="1389" y="274" width="15" height="16" fill="#554792"/>
<rect x="1404" y="274" width="16" height="16" fill="#3e346b"/>
<rect x="1420" y="274" width="15" height="16" fill="#000000"/>
<rect x="1435" y="274" width="16" height="16" fill="#51abae"/>
<rect x="1032" y="290" width="15" height="15" fill="#000000"/>
<rect x="1047" y="290" width="16" height="15" fill="#3e346b"/>
<rect x="1063" y="290" width="31" height="15" fill="#554792"/>
<rect x="1094" y="290" width="15" height="15" fill="#f3faad"/>
<rect x="1109" y="290" width="16" height="15" fill="#fff9b4"/>
<rect x="1125" y="290" width="15" height="15" fill="#554792"/>
<rect x="1140" y="290" width="16" height="15" fill="#d4ee9c"/>
<rect x="1156" y="290" width="15" height="15" fill="#429ab6"/>
<rect x="1171" y="290" width="16" height="15" fill="#bae3a1"/>
<rect x="1187" y="290" width="15" height="15" fill="#f3faad"/>
<rect x="1202" y="290" width="47" height="15" fill="#99d6a4"/>
<rect x="1249" y="290" width="15" height="15" fill="#bae3a1"/>
<rect x="1264" y="290" width="16" height="15" fill="#fff9b4"/>
<rect x="1280" y="290" width="16" height="15" fill="#d4ee9c"/>
<rect x="1296" y="290" width="15" height="15" fill="#fee18d"/>
<rect x="1311" y="290" width="16" height="15" fill="#99d6a4"/>
<rect x="1327" y="290" width="15" height="15" fill="#bae3a1"/>
<rect x="1342" y="290" width="16" height="15" fill="#75c8a5"/>
<rect x="1358" y="290" width="15" height="15" fill="#d4ee9c"/>
<rect x="1373" y="290" width="16" height="15" fill="#fff9b4"/>
<rect x="1389" y="290" width="15" height="15" fill="#d4ee9c"/>
<rect x="1404" y="290" width="16" height="15" fill="#000000"/>
<rect x="1420" y="290" width="15" height="15" fill="#5e4fa2"/>
<rect x="1032" y="305" width="15" height="16" fill="#429ab6"/>
<rect x="1047" y="305" width="16" height="16" fill="#51abae"/>
<rect x="1063" y="305" width="15" height="16" fill="#fdc474"/>
<rect x="1078" y="305" width="16" height="16" fill="#000000"/>
<rect x="1094" y="305" width="15" height="16" fill="#3e346b"/>
<rect x="1109" y="305" width="16" height="16" fill="#2a2449"/>
<rect x="1125" y="305" width="15" height="16" fill="#99d6a4"/>
<rect x="1140" y="305" width="16" height="16" fill="#75c8a5"/>
<rect x="1156" y="305" width="15" height="16" fill="#bae3a1"/>
<rect x="1171" y="305" width="16" height="16" fill="#99d6a4"/>
<rect x="1187" y="305" width="15" height="16" fill="#f3faad"/>
<rect x="1202" y="305" width="16" height="16" fill="#d4ee9c"/>
<rect x="1218" y="305" width="15" height="16" fill="#99d6a4"/>
<rect x="1233" y="305" width="16" height="16" fill="#3f77b5"/>
<rect x="1249" y="305" width="15" height="16" fill="#bae3a1"/>
<rect x="1264" y="305" width="16" height="16" fill="#d4ee9c"/>
<rect x="1280" y="305" width="16" height="16" fill="#99d6a4"/>
<rect x="1296" y="305" width="46" height="16" fill="#f3faad"/>
<rect x="1342" y="305" width="16" height="16" fill="#51abae"/>
<rect x="1358" y="305" width="15" height="16" fill="#f99153"/>
<rect x="1373" y="305" width="16" height="16" fill="#f3faad"/>
<rect x="1389" y="305" width="15" height="16" fill="#d4ee9c"/>
<rect x="1404" y="305" width="16" height="16" fill="#429ab6"/>
<rect x="1435" y="305" width="16" height="16" fill="#bae3a1"/>
<rect x="1466" y="305" width="16" height="16" fill="#000000"/>
<rect x="1047" y="321" width="16" height="15" fill="#000000"/>
<rect x="1063" y="321" width="15" height="15" fill="#d4ee9c"/>
<rect x="1078" y="321" width="16" height="15" fill="#75c8a5"/>
<rect x="1109" y="321" width="31" height="15" fill="#d4ee9c"/>
<rect x="1140" y="321" width="16" height="15" fill="#3e346b"/>
<rect x="1156" y="321" width="15" height="15" fill="#d4ee9c"/>
<rect x="1171" y="321" width="16" height="15" fill="#75c8a5"/>
<rect x="1187" y="321" width="15" height="15" fill="#f3faad"/>
<rect x="1202" y="321" width="16" height="15" fill="#61bca7"/>
<rect x="1218" y="321" width="15" height="15" fill="#d4ee9c"/>
<rect x="1233" y="321" width="16" height="15" fill="#51abae"/>
<rect x="1249" y="321" width="15" height="15" fill="#bae3a1"/>
<rect x="1264" y="321" width="16" height="15" fill="#f3faad"/>
<rect x="1280" y="321" width="16" height="15" fill="#d4ee9c"/>
<rect x="1296" y="321" width="15" height="15" fill="#bae3a1"/>
<rect x="1311" y="321" width="16" height="15" fill="#f3faad"/>
<rect x="1327" y="321" width="15" height="15" fill="#fee18d"/>
<rect x="1342" y="321" width="16" height="15" fill="#d4ee9c"/>
<rect x="1358" y="321" width="15" height="15" fill="#fff9b4"/>
<rect x="1373" y="321" width="16" height="15" fill="#5e4fa2"/>
<rect x="1389" y="321" width="15" height="15" fill="#f99153"/>
<rect x="1404" y="321" width="16" height="15" fill="#f3faad"/>
<rect x="1420" y="321" width="15" height="15" fill="#fee18d"/>
<rect x="1435" y="321" width="16" height="15" fill="#554792"/>
<rect x="1451" y="321" width="15" height="15" fill="#99d6a4"/>
<rect x="1466" y="321" width="16" height="15" fill="#000000"/>
<rect x="1032" y="336" width="15" height="16" fill="#fee18d"/>
<rect x="1047" y="336" width="16" height="16" fill="#554792"/>
<rect x="1063" y="336" width="15" height="16" fill="#f3faad"/>
<rect x="1078" y="336" width="16" height="16" fill="#51abae"/>
<rect x="1094" y="336" width="15" height="16" fill="#3288bd"/>
<rect x="1109" y="336" width="16" height="16" fill="#fdae61"/>
<rect x="1140" y="336" width="16" height="16" fill="#51abae"/>
<rect x="1156" y="336" width="15" height="16" fill="#429ab6"/>
<rect x="1171" y="336" width="31" height="16" fill="#d4ee9c"/>
<rect x="1202" y="336" width="16" height="16" fill="#4c66ad"/>
<rect x="1218" y="336" width="15" height="16" fill="#51abae"/>
<rect x="1233" y="336" width="31" height="16" fill="#d4ee9c"/>
<rect x="1264" y="336" width="16" height="16" fill="#99d6a4"/>
<rect x="1280" y="336" width="16" height="16" fill="#fff9b4"/>
<rect x="1296" y="336" width="15" height="16" fill="#99d6a4"/>
<rect x="1311" y="336" width="16" height="16" fill="#d4ee9c"/>
<rect x="1327" y="336" width="15" height="16" fill="#99d6a4"/>
<rect x="1342" y="336" width="31" height="16" fill="#d4ee9c"/>
<rect x="1373" y="336" width="16" height="16" fill="#f3faad"/>
<rect x="1389" y="336" width="15" height="16" fill="#2a2449"/>
<rect x="1404" y="336" width="16" height="16" fill="#51abae"/>
<rect x="1420" y="336" width="15" height="16" fill="#f3faad"/>
<rect x="1435" y="336" width="16" height="16" fill="#bae3a1"/>
<rect x="1451" y="336" width="15" height="16" fill="#f3faad"/>
<rect x="1466" y="336" width="16" height="16" fill="#000000"/>
<rect x="1482" y="336" width="15" height="16" fill="#3288bd"/>
<rect x="1047" y="352" width="16" height="15" fill="#51abae"/>
<rect x="1063" y="352" width="15" height="15" fill="#000000"/>
<rect x="1094" y="352" width="15" height="15" fill="#99d6a4"/>
<rect x="1109" y="352" width="16" height="15" fill="#3e346b"/>
<rect x="1125" y="352" width="31" height="15" fill="#2a2449"/>
<rect x="1156" y="352" width="15" height="15" fill="#fdc474"/>
<rect x="1171" y="352" width="31" height="15" fill="#51abae"/>
<rect x="1202" y="352" width="16" height="15" fill="#bae3a1"/>
<rect x="1218" y="352" width="15" height="15" fill="#fee18d"/>
<rect x="1233" y="352" width="47" height="15" fill="#f3faad"/>
<rect x="1280" y="352" width="16" height="15" fill="#fff9b4"/>
<rect x="1296" y="352" width="15" height="15" fill="#f3faad"/>
<rect x="1311" y="352" width="16" height="15" fill="#99d6a4"/>
<rect x="1327" y="352" width="31" height="15" fill="#d4ee9c"/>
<rect x="1358" y="352" width="15" height="15" fill="#fee18d"/>
<rect x="1373" y="352" width="16" height="15" fill="#f3faad"/>
<rect x="1389" y="352" width="15" height="15" fill="#fdc474"/>
<rect x="1404" y="352" width="16" height="15" fill="#d4ee9c"/>
<rect x="1420" y="352" width="15" height="15" fill="#429ab6"/>
<rect x="1435" y="352" width="16" height="15" fill="#d4ee9c"/>
<rect x="1513" y="352" width="15" height="15" fill="#000000"/>
<rect x="1047" y="367" width="16" height="16" fill="#000000"/>
<rect x="1140" y="367" width="31" height="16" fill="#fee18d"/>
<rect x="1171" y="367" width="16" height="16" fill="#3e346b"/>
<rect x="1187" y="367" width="31" height="16" fill="#99d6a4"/>
<rect x="1218" y="367" width="15" height="16" fill="#51abae"/>
<rect x="1233" y="367" width="16" height="16" fill="#75c8a5"/>
<rect x="1249" y="367" width="15" height="16" fill="#99d6a4"/>
<rect x="1264" y="367" width="16" height="16" fill="#bae3a1"/>
<rect x="1280" y="367" width="31" height="16" fill="#d4ee9c"/>
<rect x="1311" y="367" width="16" height="16" fill="#f3faad"/>
<rect x="1327" y="367" width="15" height="16" fill="#d4ee9c"/>
<rect x="1342" y="367" width="16" height="16" fill="#bae3a1"/>
<rect x="1358" y="367" width="15" height="16" fill="#d4ee9c"/>
<rect x="1373" y="367" width="31" height="16" fill="#f3faad"/>
<rect x="1404" y="367" width="16" height="16" fill="#fee18d"/>
<rect x="1420" y="367" width="15" height="16" fill="#d4ee9c"/>
<rect x="1435" y="367" width="16" height="16" fill="#51abae"/>
<rect x="1451" y="367" width="15" height="16" fill="#d4ee9c"/>
<rect x="1513" y="367" width="15" height="16" fill="#000000"/>
<rect x="1032" y="383" width="15" height="15" fill="#000000"/>
<rect x="1156" y="383" width="15" height="15" fill="#000000"/>
<rect x="1171" y="383" width="31" height="15" fill="#d4ee9c"/>
<rect x="1202" y="383" width="16" height="15" fill="#2a2449"/>
<rect x="1218" y="383" width="15" height="15" fill="#f3faad"/>
<rect x="1233" y="383" width="16" height="15" fill="#d4ee9c"/>
<rect x="1249" y="383" width="15" height="15" fill="#61bca7"/>
<rect x="1264" y="383" width="16" height="15" fill="#75c8a5"/>
<rect x="1280" y="383" width="31" height="15" fill="#bae3a1"/>
<rect x="1311" y="383" width="16" height="15" fill="#d4ee9c"/>
<rect x="1327" y="383" width="15" height="15" fill="#f3faad"/>
<rect x="1342" y="383" width="31" height="15" fill="#d4ee9c"/>
<rect x="1373" y="383" width="16" height="15" fill="#bae3a1"/>
<rect x="1389" y="383" width="31" height="15" fill="#f3faad"/>
<rect x="1420" y="383" width="15" height="15" fill="#99d6a4"/>
<rect x="1435" y="383" width="16" height="15" fill="#f3faad"/>
<rect x="1451" y="383" width="15" height="15" fill="#fdae61"/>
<rect x="1482" y="383" width="15" height="15" fill="#d4ee9c"/>
<rect x="1528" y="383" width="16" height="15" fill="#000000"/>
<rect x="1156" y="398" width="31" height="16" fill="#fee18d"/>
<rect x="1187" y="398" width="15" height="16" fill="#f3faad"/>
<rect x="1202" y="398" width="16" height="16" fill="#bae3a1"/>
<rect x="1218" y="398" width="15" height="16" fill="#fff9b4"/>
<rect x="1233" y="398" width="16" height="16" fill="#99d6a4"/>
<rect x="1249" y="398" width="15" height="16" fill="#75c8a5"/>
<rect x="1264" y="398" width="16" height="16" fill="#429ab6"/>
<rect x="1280" y="398" width="16" height="16" fill="#bae3a1"/>
<rect x="1296" y="398" width="15" height="16" fill="#d4ee9c"/>
<rect x="1311" y="398" width="31" height="16" fill="#bae3a1"/>
<rect x="1342" y="398" width="16" height="16" fill="#51abae"/>
<rect x="1358" y="398" width="15" height="16" fill="#f3faad"/>
<rect x="1373" y="398" width="31" height="16" fill="#99d6a4"/>
<rect x="1404" y="398" width="16" height="16" fill="#d4ee9c"/>
<rect x="1420" y="398" width="15" height="16" fill="#51abae"/>
<rect x="1435" y="398" width="16" height="16" fill="#bae3a1"/>
<rect x="1451" y="398" width="15" height="16" fill="#fff9b4"/>
<rect x="1466" y="398" width="16" height="16" fill="#fee18d"/>
<rect x="1482" y="398" width="15" height="16" fill="#000000"/>
<rect x="1140" y="414" width="16" height="15" fill="#000000"/>
<rect x="1156" y="414" width="15" height="15" fill="#2a2449"/>
<rect x="1171" y="414" width="16" height="15" fill="#fee18d"/>
<rect x="1187" y="414" width="15" height="15" fill="#fdae61"/>
<rect x="1202" y="414" width="16" height="15" fill="#61bca7"/>
<rect x="1218" y="414" width="15" height="15" fill="#99d6a4"/>
<rect x="1233" y="414" width="16" height="15" fill="#f3faad"/>
<rect x="1249" y="414" width="15" height="15" fill="#d4ee9c"/>
<rect x="1264" y="414" width="47" height="15" fill="#99d6a4"/>
<rect x="1311" y="414" width="16" height="15" fill="#d4ee9c"/>
<rect x="1327" y="414" width="31" height="15" fill="#99d6a4"/>
<rect x="1358" y="414" width="15" height="15" fill="#bae3a1"/>
<rect x="1373" y="414" width="16" height="15" fill="#d4ee9c"/>
<rect x="1389" y="414" width="46" height="15" fill="#bae3a1"/>
<rect x="1435" y="414" width="31" height="15" fill="#99d6a4"/>
<rect x="1497" y="414" width="16" height="15" fill="#bae3a1"/>
<rect x="1078" y="429" width="31" height="16" fill="#000000"/>
<rect x="1171" y="429" width="16" height="16" fill="#99d6a4"/>
<rect x="1187" y="429" width="15" height="16" fill="#2a2449"/>
<rect x="1202" y="429" width="16" height="16" fill="#d4ee9c"/>
<rect x="1218" y="429" width="15" height="16" fill="#75c8a5"/>
<rect x="1233" y="429" width="31" height="16" fill="#f3faad"/>
<rect x="1264" y="429" width="16" height="16" fill="#75c8a5"/>
<rect x="1280" y="429" width="16" height="16" fill="#99d6a4"/>
<rect x="1296" y="429" width="15" height="16" fill="#75c8a5"/>
<rect x="1311" y="429" width="16" height="16" fill="#99d6a4"/>
<rect x="1327" y="429" width="31" height="16" fill="#bae3a1"/>
<rect x="1358" y="429" width="15" height="16" fill="#99d6a4"/>
<rect x="1373" y="429" width="16" height="16" fill="#d4ee9c"/>
<rect x="1389" y="429" width="15" height="16" fill="#75c8a5"/>
<rect x="1404" y="429" width="31" height="16" fill="#99d6a4"/>
<rect x="1435" y="429" width="16" height="16" fill="#d4ee9c"/>
<rect x="1451" y="429" width="15" height="16" fill="#99d6a4"/>
<rect x="1466" y="429" width="16" height="16" fill="#554792"/>
<rect x="1544" y="429" width="31" height="16" fill="#000000"/>
<rect x="1156" y="445" width="15" height="15" fill="#000000"/>
<rect x="1171" y="445" width="16" height="15" fill="#75c8a5"/>
<rect x="1187" y="445" width="15" height="15" fill="#d4ee9c"/>
<rect x="1202" y="445" width="16" height="15" fill="#f3faad"/>
<rect x="1218" y="445" width="15" height="15" fill="#97d5a4"/>
<rect x="1233" y="445" width="31" height="15" fill="#bae3a1"/>
<rect x="1264" y="445" width="16" height="15" fill="#d4ee9c"/>
<rect x="1280" y="445" width="47" height="15" fill="#97d5a4"/>
<rect x="1327" y="445" width="15" height="15" fill="#bae3a1"/>
<rect x="1342" y="445" width="47" height="15" fill="#97d5a4"/>
<rect x="1389" y="445" width="15" height="15" fill="#bae3a1"/>
<rect x="1404" y="445" width="31" height="15" fill="#97d5a4"/>
<rect x="1435" y="445" width="31" height="15" fill="#d4ee9c"/>
<rect x="1466" y="445" width="16" height="15" fill="#f3faad"/>
<rect x="1482" y="445" width="15" height="15" fill="#d4ee9c"/>
<rect x="1497" y="445" width="16" height="15" fill="#000000"/>
<rect x="1528" y="445" width="16" height="15" fill="#000000"/>
<rect x="1559" y="445" width="16" height="15" fill="#5e4fa2"/>
<rect x="1156" y="460" width="15" height="16" fill="#000000"/>
<rect x="1171" y="460" width="16" height="16" fill="#61bca7"/>
<rect x="1187" y="460" width="15" height="16" fill="#000000"/>
<rect x="1202" y="460" width="16" height="16" fill="#75c8a5"/>
<rect x="1218" y="460" width="15" height="16" fill="#95d5a4"/>
<rect x="1233" y="460" width="16" height="16" fill="#fff9b4"/>
<rect x="1249" y="460" width="31" height="16" fill="#95d5a4"/>
<rect x="1280" y="460" width="16" height="16" fill="#51abae"/>
<rect x="1296" y="460" width="62" height="16" fill="#95d5a4"/>
<rect x="1358" y="460" width="15" height="16" fill="#d4ee9c"/>
<rect x="1373" y="460" width="16" height="16" fill="#bae3a1"/>
<rect x="1389" y="460" width="15" height="16" fill="#51abae"/>
<rect x="1404" y="460" width="16" height="16" fill="#95d5a4"/>
<rect x="1420" y="460" width="15" height="16" fill="#bae3a1"/>
<rect x="1435" y="460" width="16" height="16" fill="#fff9b4"/>
<rect x="1451" y="460" width="15" height="16" fill="#61bca7"/>
<rect x="1466" y="460" width="16" height="16" fill="#f3faad"/>
<rect x="1482" y="460" width="15" height="16" fill="#000000"/>
<rect x="1497" y="460" width="16" height="16" fill="#fdae61"/>
<rect x="1528" y="460" width="16" height="16" fill="#000000"/>
<rect x="1156" y="476" width="15" height="15" fill="#000000"/>
<rect x="1202" y="476" width="16" height="15" fill="#93d4a4"/>
<rect x="1218" y="476" width="31" height="15" fill="#f3faad"/>
<rect x="1249" y="476" width="15" height="15" fill="#93d4a4"/>
<rect x="1264" y="476" width="16" height="15" fill="#61bca7"/>
<rect x="1280" y="476" width="16" height="15" fill="#bae3a1"/>
<rect x="1296" y="476" width="15" height="15" fill="#75c8a5"/>
<rect x="1311" y="476" width="16" height="15" fill="#93d4a4"/>
<rect x="1327" y="476" width="31" height="15" fill="#75c8a5"/>
<rect x="1358" y="476" width="46" height="15" fill="#93d4a4"/>
<rect x="1404" y="476" width="16" height="15" fill="#bae3a1"/>
<rect x="1420" y="476" width="15" height="15" fill="#f3faad"/>
<rect x="1435" y="476" width="16" height="15" fill="#51abae"/>
<rect x="1451" y="476" width="15" height="15" fill="#d4ee9c"/>
<rect x="1466" y="476" width="16" height="15" fill="#554792"/>
<rect x="1528" y="476" width="31" height="15" fill="#000000"/>
<rect x="1125" y="491" width="15" height="16" fill="#000000"/>
<rect x="1187" y="491" width="15" height="16" fill="#000000"/>
<rect x="1202" y="491" width="16" height="16" fill="#2a2449"/>
<rect x="1218" y="491" width="15" height="16" fill="#3f77b5"/>
<rect x="1233" y="491" width="16" height="16" fill="#bae3a1"/>
<rect x="1249" y="491" width="47" height="16" fill="#91d3a4"/>
<rect x="1296" y="491" width="15" height="16" fill="#bae3a1"/>
<rect x="1311" y="491" width="16" height="16" fill="#429ab6"/>
<rect x="1327" y="491" width="15" height="16" fill="#91d3a4"/>
<rect x="1342" y="491" width="16" height="16" fill="#75c8a5"/>
<rect x="1358" y="491" width="77" height="16" fill="#91d3a4"/>
<rect x="1435" y="491" width="16" height="16" fill="#75c8a5"/>
<rect x="1451" y="491" width="31" height="16" fill="#91d3a4"/>
<rect x="1482" y="491" width="15" height="16" fill="#51abae"/>
<rect x="1528" y="491" width="16" height="16" fill="#f3faad"/>
<rect x="1156" y="507" width="15" height="15" fill="#000000"/>
<rect x="1202" y="507" width="16" height="15" fill="#fee18d"/>
<rect x="1218" y="507" width="15" height="15" fill="#8fd2a4"/>
<rect x="1233" y="507" width="16" height="15" fill="#51abae"/>
<rect x="1249" y="507" width="15" height="15" fill="#8fd2a4"/>
<rect x="1264" y="507" width="32" height="15" fill="#75c8a5"/>
<rect x="1296" y="507" width="124" height="15" fill="#8fd2a4"/>
<rect x="1420" y="507" width="15" height="15" fill="#75c8a5"/>
<rect x="1435" y="507" width="31" height="15" fill="#bae3a1"/>
<rect x="1466" y="507" width="16" height="15" fill="#75c8a5"/>
<rect x="1482" y="507" width="15" height="15" fill="#f3faad"/>
<rect x="1497" y="507" width="16" height="15" fill="#8fd2a4"/>
<rect x="1513" y="507" width="15" height="15" fill="#f3faad"/>
<rect x="1171" y="522" width="16" height="16" fill="#4c66ad"/>
<rect x="1187" y="522" width="15" height="16" fill="#000000"/>
<rect x="1202" y="522" width="16" height="16" fill="#554792"/>
<rect x="1218" y="522" width="31" height="16" fill="#8ed1a4"/>
<rect x="1249" y="522" width="15" height="16" fill="#51abae"/>
<rect x="1264" y="522" width="16" height="16" fill="#61bca7"/>
<rect x="1280" y="522" width="16" height="16" fill="#8ed1a4"/>
<rect x="1296" y="522" width="31" height="16" fill="#75c8a5"/>
<rect x="1327" y="522" width="108" height="16" fill="#8ed1a4"/>
<rect x="1435" y="522" width="16" height="16" fill="#75c8a5"/>
<rect x="1451" y="522" width="15" height="16" fill="#8ed1a4"/>
<rect x="1466" y="522" width="16" height="16" fill="#75c8a5"/>
<rect x="1482" y="522" width="15" height="16" fill="#8ed1a4"/>
<rect x="1497" y="522" width="16" height="16" fill="#75c8a5"/>
<rect x="1513" y="522" width="15" height="16" fill="#bae3a1"/>
<rect x="1528" y="522" width="16" height="16" fill="#51abae"/>
<rect x="1544" y="522" width="15" height="16" fill="#f3faad"/>
<rect x="1187" y="538" width="15" height="15" fill="#000000"/>
<rect x="1202" y="538" width="16" height="15" fill="#2a2449"/>
<rect x="1218" y="538" width="15" height="15" fill="#fff9b4"/>
<rect x="1233" y="538" width="16" height="15" fill="#3288bd"/>
<rect x="1249" y="538" width="31" height="15" fill="#8cd1a4"/>
<rect x="1280" y="538" width="16" height="15" fill="#bae3a1"/>
<rect x="1296" y="538" width="15" height="15" fill="#75c8a5"/>
<rect x="1311" y="538" width="16" height="15" fill="#bae3a1"/>
<rect x="1327" y="538" width="15" height="15" fill="#75c8a5"/>
<rect x="1342" y="538" width="47" height="15" fill="#8cd1a4"/>
<rect x="1389" y="538" width="15" height="15" fill="#75c8a5"/>
<rect x="1404" y="538" width="109" height="15" fill="#8cd1a4"/>
<rect x="1513" y="538" width="15" height="15" fill="#d4ee9c"/>
<rect x="1528" y="538" width="16" height="15" fill="#3288bd"/>
<rect x="1544" y="538" width="15" height="15" fill="#75c8a5"/>
<rect x="1606" y="538" width="15" height="15" fill="#000000"/>
<rect x="1202" y="553" width="16" height="16" fill="#d4ee9c"/>
<rect x="1218" y="553" width="31" height="16" fill="#554792"/>
<rect x="1249" y="553" width="15" height="16" fill="#51abae"/>
<rect x="1264" y="553" width="16" height="16" fill="#bae3a1"/>
<rect x="1280" y="553" width="16" height="16" fill="#51abae"/>
<rect x="1296" y="553" width="15" height="16" fill="#75c8a5"/>
<rect x="1311" y="553" width="16" height="16" fill="#8ad0a4"/>
<rect x="1327" y="553" width="15" height="16" fill="#75c8a5"/>
<rect x="1342" y="553" width="31" height="16" fill="#8ad0a4"/>
<rect x="1373" y="553" width="31" height="16" fill="#75c8a5"/>
<rect x="1404" y="553" width="93" height="16" fill="#8ad0a4"/>
<rect x="1497" y="553" width="31" height="16" fill="#75c8a5"/>
<rect x="1528" y="553" width="16" height="16" fill="#61bca7"/>
<rect x="1544" y="553" width="15" height="16" fill="#75c8a5"/>
<rect x="1559" y="553" width="16" height="16" fill="#8ad0a4"/>
<rect x="1652" y="553" width="16" height="16" fill="#3f77b5"/>
<rect x="1202" y="569" width="16" height="15" fill="#5e4fa2"/>
<rect x="1218" y="569" width="15" height="15" fill="#bae3a1"/>
<rect x="1233" y="569" width="16" height="15" fill="#75c8a5"/>
<rect x="1249" y="569" width="15" height="15" fill="#3f77b5"/>
<rect x="1264" y="569" width="16" height="15" fill="#75c8a5"/>
<rect x="1280" y="569" width="16" height="15" fill="#bae3a1"/>
<rect x="1296" y="569" width="46" height="15" fill="#75c8a5"/>
<rect x="1342" y="569" width="16" height="15" fill="#88cfa5"/>
<rect x="1358" y="569" width="46" height="15" fill="#75c8a5"/>
<rect x="1404" y="569" width="16" height="15" fill="#88cfa5"/>
<rect x="1420" y="569" width="15" height="15" fill="#75c8a5"/>
<rect x="1435" y="569" width="62" height="15" fill="#88cfa5"/>
<rect x="1497" y="569" width="31" height="15" fill="#75c8a5"/>
<rect x="1528" y="569" width="31" height="15" fill="#88cfa5"/>
<rect x="1559" y="569" width="16" height="15" fill="#75c8a5"/>
<rect x="1575" y="569" width="15" height="15" fill="#f99153"/>
<rect x="1621" y="569" width="16" height="15" fill="#000000"/>
<rect x="1218" y="584" width="15" height="16" fill="#75c8a5"/>
<rect x="1233" y="584" width="16" height="16" fill="#429ab6"/>
<rect x="1249" y="584" width="15" height="16" fill="#bae3a1"/>
<rect x="1264" y="584" width="16" height="16" fill="#75c8a5"/>
<rect x="1280" y="584" width="62" height="16" fill="#86cea5"/>
<rect x="1342" y="584" width="16" height="16" fill="#75c8a5"/>
<rect x="1358" y="584" width="46" height="16" fill="#86cea5"/>
<rect x="1404" y="584" width="16" height="16" fill="#75c8a5"/>
<rect x="1420" y="584" width="93" height="16" fill="#86cea5"/>
<rect x="1513" y="584" width="15" height="16" fill="#75c8a5"/>
<rect x="1528" y="584" width="16" height="16" fill="#86cea5"/>
<rect x="1544" y="584" width="15" height="16" fill="#61bca7"/>
<rect x="1559" y="584" width="16" height="16" fill="#86cea5"/>
<rect x="1575" y="584" width="15" height="16" fill="#75c8a5"/>
<rect x="1590" y="584" width="16" height="16" fill="#d4ee9c"/>
<rect x="1233" y="600" width="16" height="15" fill="#86cea5"/>
<rect x="1249" y="600" width="15" height="15" fill="#3e346b"/>
<rect x="1264" y="600" width="16" height="15" fill="#86cea5"/>
<rect x="1280" y="600" width="31" height="15" fill="#75c8a5"/>
<rect x="1311" y="600" width="31" height="15" fill="#61bca7"/>
<rect x="1342" y="600" width="31" height="15" fill="#75c8a5"/>
<rect x="1373" y="600" width="16" height="15" fill="#86cea5"/>
<rect x="1389" y="600" width="15" height="15" fill="#75c8a5"/>
<rect x="1404" y="600" width="16" height="15" fill="#86cea5"/>
<rect x="1420" y="600" width="15" height="15" fill="#75c8a5"/>
<rect x="1435" y="600" width="16" height="15" fill="#86cea5"/>
<rect x="1451" y="600" width="15" height="15" fill="#75c8a5"/>
<rect x="1466" y="600" width="16" height="15" fill="#86cea5"/>
<rect x="1482" y="600" width="46" height="15" fill="#75c8a5"/>
<rect x="1528" y="600" width="16" height="15" fill="#86cea5"/>
<rect x="1544" y="600" width="31" height="15" fill="#75c8a5"/>
<rect x="1575" y="600" width="15" height="15" fill="#bae3a1"/>
<rect x="1590" y="600" width="16" height="15" fill="#75c8a5"/>
<rect x="1606" y="600" width="15" height="15" fill="#fdae61"/>
<rect x="1218" y="615" width="15" height="16" fill="#5e4fa2"/>
<rect x="1233" y="615" width="31" height="16" fill="#000000"/>
<rect x="1264" y="615" width="16" height="16" fill="#61bca7"/>
<rect x="1280" y="615" width="16" height="16" fill="#75c8a5"/>
<rect x="1296" y="615" width="15" height="16" fill="#51abae"/>
<rect x="1311" y="615" width="93" height="16" fill="#75c8a5"/>
<rect x="1404" y="615" width="16" height="16" fill="#61bca7"/>
<rect x="1420" y="615" width="108" height="16" fill="#75c8a5"/>
<rect x="1528" y="615" width="16" height="16" fill="#61bca7"/>
<rect x="1544" y="615" width="46" height="16" fill="#75c8a5"/>
<rect x="1590" y="615" width="31" height="16" fill="#86cea5"/>
<rect x="1621" y="615" width="16" height="16" fill="#000000"/>
<rect x="1233" y="631" width="16" height="15" fill="#fff9b4"/>
<rect x="1249" y="631" width="15" height="15" fill="#554792"/>
<rect x="1264" y="631" width="32" height="15" fill="#5e4fa2"/>
<rect x="1296" y="631" width="31" height="15" fill="#51abae"/>
<rect x="1327" y="631" width="15" height="15" fill="#75c8a5"/>
<rect x="1342" y="631" width="16" height="15" fill="#51abae"/>
<rect x="1358" y="631" width="15" height="15" fill="#86cea5"/>
<rect x="1373" y="631" width="62" height="15" fill="#61bca7"/>
<rect x="1435" y="631" width="16" height="15" fill="#75c8a5"/>
<rect x="1451" y="631" width="15" height="15" fill="#51abae"/>
<rect x="1466" y="631" width="16" height="15" fill="#86cea5"/>
<rect x="1482" y="631" width="15" height="15" fill="#75c8a5"/>
<rect x="1497" y="631" width="16" height="15" fill="#86cea5"/>
<rect x="1513" y="631" width="15" height="15" fill="#75c8a5"/>
<rect x="1528" y="631" width="16" height="15" fill="#51abae"/>
<rect x="1544" y="631" width="15" height="15" fill="#61bca7"/>
<rect x="1559" y="631" width="47" height="15" fill="#75c8a5"/>
<rect x="1606" y="631" width="15" height="15" fill="#61bca7"/>
<rect x="1621" y="631" width="16" height="15" fill="#86cea5"/>
<rect x="1637" y="631" width="15" height="15" fill="#2a2449"/>
<rect x="1249" y="646" width="15" height="16" fill="#bae3a1"/>
<rect x="1264" y="646" width="16" height="16" fill="#5e4fa2"/>
<rect x="1280" y="646" width="16" height="16" fill="#429ab6"/>
<rect x="1296" y="646" width="15" height="16" fill="#51abae"/>
<rect x="1311" y="646" width="31" height="16" fill="#86cea5"/>
<rect x="1342" y="646" width="16" height="16" fill="#75c8a5"/>
<rect x="1358" y="646" width="31" height="16" fill="#61bca7"/>
<rect x="1389" y="646" width="15" height="16" fill="#51abae"/>
<rect x="1404" y="646" width="16" height="16" fill="#75c8a5"/>
<rect x="1420" y="646" width="15" height="16" fill="#86cea5"/>
<rect x="1435" y="646" width="31" height="16" fill="#61bca7"/>
<rect x="1466" y="646" width="31" height="16" fill="#75c8a5"/>
<rect x="1497" y="646" width="16" height="16" fill="#61bca7"/>
<rect x="1513" y="646" width="93" height="16" fill="#75c8a5"/>
<rect x="1606" y="646" width="15" height="16" fill="#61bca7"/>
<rect x="1621" y="646" width="31" height="16" fill="#86cea5"/>
<rect x="1264" y="662" width="16" height="15" fill="#000000"/>
<rect x="1280" y="662" width="16" height="15" fill="#554792"/>
<rect x="1296" y="662" width="31" height="15" fill="#75c8a5"/>
<rect x="1327" y="662" width="15" height="15" fill="#51abae"/>
<rect x="1342" y="662" width="16" height="15" fill="#61bca7"/>
<rect x="1358" y="662" width="15" height="15" fill="#75c8a5"/>
<rect x="1373" y="662" width="16" height="15" fill="#61bca7"/>
<rect x="1389" y="662" width="15" height="15" fill="#75c8a5"/>
<rect x="1404" y="662" width="31" height="15" fill="#51abae"/>
<rect x="1435" y="662" width="16" height="15" fill="#75c8a5"/>
<rect x="1451" y="662" width="31" height="15" fill="#61bca7"/>
<rect x="1482" y="662" width="31" height="15" fill="#75c8a5"/>
<rect x="1513" y="662" width="15" height="15" fill="#61bca7"/>
<rect x="1528" y="662" width="16" height="15" fill="#75c8a5"/>
<rect x="1544" y="662" width="15" height="15" fill="#61bca7"/>
<rect x="1559" y="662" width="47" height="15" fill="#75c8a5"/>
<rect x="1606" y="662" width="15" height="15" fill="#61bca7"/>
<rect x="1621" y="662" width="16" height="15" fill="#86cea5"/>
<rect x="1637" y="662" width="15" height="15" fill="#d4ee9c"/>
<rect x="1652" y="662" width="16" height="15" fill="#000000"/>
<rect x="1699" y="662" width="15" height="15" fill="#000000"/>
<rect x="1280" y="677" width="16" height="16" fill="#000000"/>
<rect x="1296" y="677" width="15" height="16" fill="#d4ee9c"/>
<rect x="1311" y="677" width="16" height="16" fill="#51abae"/>
<rect x="1327" y="677" width="15" height="16" fill="#61bca7"/>
<rect x="1342" y="677" width="16" height="16" fill="#3288bd"/>
<rect x="1358" y="677" width="15" height="16" fill="#61bca7"/>
<rect x="1373" y="677" width="16" height="16" fill="#51abae"/>
<rect x="1389" y="677" width="15" height="16" fill="#86cea5"/>
<rect x="1404" y="677" width="31" height="16" fill="#51abae"/>
<rect x="1435" y="677" width="31" height="16" fill="#75c8a5"/>
<rect x="1466" y="677" width="62" height="16" fill="#51abae"/>
<rect x="1528" y="677" width="16" height="16" fill="#61bca7"/>
<rect x="1544" y="677" width="15" height="16" fill="#75c8a5"/>
<rect x="1559" y="677" width="31" height="16" fill="#61bca7"/>
<rect x="1590" y="677" width="16" height="16" fill="#75c8a5"/>
<rect x="1606" y="677" width="15" height="16" fill="#86cea5"/>
<rect x="1621" y="677" width="31" height="16" fill="#75c8a5"/>
<rect x="1652" y="677" width="16" height="16" fill="#3f77b5"/>
<rect x="1668" y="677" width="15" height="16" fill="#86cea5"/>
<rect x="1280" y="693" width="16" height="15" fill="#51abae"/>
<rect x="1311" y="693" width="16" height="15" fill="#bae3a1"/>
<rect x="1327" y="693" width="15" height="15" fill="#61bca7"/>
<rect x="1342" y="693" width="16" height="15" fill="#51abae"/>
<rect x="1358" y="693" width="31" height="15" fill="#429ab6"/>
<rect x="1389" y="693" width="31" height="15" fill="#51abae"/>
<rect x="1420" y="693" width="15" height="15" fill="#75c8a5"/>
<rect x="1435" y="693" width="16" height="15" fill="#61bca7"/>
<rect x="1451" y="693" width="15" height="15" fill="#75c8a5"/>
<rect x="1466" y="693" width="31" height="15" fill="#51abae"/>
<rect x="1497" y="693" width="16" height="15" fill="#61bca7"/>
<rect x="1513" y="693" width="62" height="15" fill="#51abae"/>
<rect x="1575" y="693" width="46" height="15" fill="#61bca7"/>
<rect x="1621" y="693" width="16" height="15" fill="#51abae"/>
<rect x="1637" y="693" width="15" height="15" fill="#86cea5"/>
<rect x="1652" y="693" width="16" height="15" fill="#429ab6"/>
<rect x="1668" y="693" width="15" height="15" fill="#bae3a1"/>
<rect x="1683" y="693" width="16" height="15" fill="#d4ee9c"/>
<rect x="1699" y="693" width="15" height="15" fill="#fee18d"/>
<rect x="1264" y="708" width="16" height="16" fill="#000000"/>
<rect x="1311" y="708" width="16" height="16" fill="#3e346b"/>
<rect x="1327" y="708" width="15" height="16" fill="#5e4fa2"/>
<rect x="1342" y="708" width="16" height="16" fill="#61bca7"/>
<rect x="1358" y="708" width="15" height="16" fill="#3f77b5"/>
<rect x="1373" y="708" width="16" height="16" fill="#3288bd"/>
<rect x="1389" y="708" width="31" height="16" fill="#429ab6"/>
<rect x="1420" y="708" width="15" height="16" fill="#3288bd"/>
<rect x="1435" y="708" width="31" height="16" fill="#51abae"/>
<rect x="1466" y="708" width="16" height="16" fill="#75c8a5"/>
<rect x="1482" y="708" width="31" height="16" fill="#51abae"/>
<rect x="1513" y="708" width="15" height="16" fill="#61bca7"/>
<rect x="1528" y="708" width="47" height="16" fill="#51abae"/>
<rect x="1575" y="708" width="15" height="16" fill="#429ab6"/>
<rect x="1590" y="708" width="16" height="16" fill="#51abae"/>
<rect x="1606" y="708" width="15" height="16" fill="#61bca7"/>
<rect x="1621" y="708" width="16" height="16" fill="#51abae"/>
<rect x="1637" y="708" width="15" height="16" fill="#75c8a5"/>
<rect x="1652" y="708" width="16" height="16" fill="#429ab6"/>
<rect x="1668" y="708" width="15" height="16" fill="#61bca7"/>
<rect x="1683" y="708" width="16" height="16" fill="#5e4fa2"/>
<rect x="1699" y="708" width="15" height="16" fill="#554792"/>
<rect x="1296" y="724" width="31" height="15" fill="#000000"/>
<rect x="1327" y="724" width="15" height="15" fill="#3e346b"/>
<rect x="1342" y="724" width="16" height="15" fill="#3f77b5"/>
<rect x="1358" y="724" width="15" height="15" fill="#86cea5"/>
<rect x="1373" y="724" width="16" height="15" fill="#4c66ad"/>
<rect x="1389" y="724" width="15" height="15" fill="#75c8a5"/>
<rect x="1404" y="724" width="16" height="15" fill="#3288bd"/>
<rect x="1420" y="724" width="31" height="15" fill="#429ab6"/>
<rect x="1451" y="724" width="15" height="15" fill="#51abae"/>
<rect x="1466" y="724" width="16" height="15" fill="#429ab6"/>
<rect x="1482" y="724" width="31" height="15" fill="#51abae"/>
<rect x="1513" y="724" width="15" height="15" fill="#429ab6"/>
<rect x="1528" y="724" width="16" height="15" fill="#51abae"/>
<rect x="1544" y="724" width="31" height="15" fill="#429ab6"/>
<rect x="1575" y="724" width="46" height="15" fill="#51abae"/>
<rect x="1621" y="724" width="16" height="15" fill="#86cea5"/>
<rect x="1637" y="724" width="15" height="15" fill="#51abae"/>
<rect x="1652" y="724" width="16" height="15" fill="#75c8a5"/>
<rect x="1668" y="724" width="15" height="15" fill="#d4ee9c"/>
<rect x="1683" y="724" width="31" height="15" fill="#86cea5"/>
<rect x="1761" y="724" width="15" height="15" fill="#000000"/>
<rect x="1296" y="739" width="15" height="16" fill="#429ab6"/>
<rect x="1327" y="739" width="15" height="16" fill="#86cea5"/>
<rect x="1342" y="739" width="16" height="16" fill="#51abae"/>
<rect x="1358" y="739" width="15" height="16" fill="#5e4fa2"/>
<rect x="1373" y="739" width="16" height="16" fill="#75c8a5"/>
<rect x="1389" y="739" width="15" height="16" fill="#51abae"/>
<rect x="1404" y="739" width="31" height="16" fill="#429ab6"/>
<rect x="1435" y="739" width="16" height="16" fill="#75c8a5"/>
<rect x="1451" y="739" width="15" height="16" fill="#429ab6"/>
<rect x="1466" y="739" width="47" height="16" fill="#51abae"/>
<rect x="1513" y="739" width="15" height="16" fill="#429ab6"/>
<rect x="1528" y="739" width="47" height="16" fill="#51abae"/>
<rect x="1575" y="739" width="31" height="16" fill="#429ab6"/>
<rect x="1606" y="739" width="15" height="16" fill="#51abae"/>
<rect x="1621" y="739" width="16" height="16" fill="#3288bd"/>
<rect x="1637" y="739" width="31" height="16" fill="#429ab6"/>
<rect x="1668" y="739" width="15" height="16" fill="#bae3a1"/>
<rect x="1683" y="739" width="16" height="16" fill="#86cea5"/>
<rect x="1699" y="739" width="15" height="16" fill="#fff9b4"/>
<rect x="1714" y="739" width="16" height="16" fill="#000000"/>
<rect x="1311" y="755" width="16" height="15" fill="#3f77b5"/>
<rect x="1327" y="755" width="15" height="15" fill="#5e4fa2"/>
<rect x="1342" y="755" width="16" height="15" fill="#d4ee9c"/>
<rect x="1358" y="755" width="15" height="15" fill="#5e4fa2"/>
<rect x="1373" y="755" width="16" height="15" fill="#429ab6"/>
<rect x="1389" y="755" width="15" height="15" fill="#86cea5"/>
<rect x="1404" y="755" width="16" height="15" fill="#4c66ad"/>
<rect x="1420" y="755" width="15" height="15" fill="#3288bd"/>
<rect x="1435" y="755" width="16" height="15" fill="#75c8a5"/>
<rect x="1451" y="755" width="15" height="15" fill="#3f77b5"/>
<rect x="1466" y="755" width="31" height="15" fill="#51abae"/>
<rect x="1497" y="755" width="16" height="15" fill="#4c66ad"/>
<rect x="1513" y="755" width="15" height="15" fill="#3f77b5"/>
<rect x="1528" y="755" width="16" height="15" fill="#429ab6"/>
<rect x="1544" y="755" width="15" height="15" fill="#51abae"/>
<rect x="1559" y="755" width="47" height="15" fill="#429ab6"/>
<rect x="1606" y="755" width="15" height="15" fill="#51abae"/>
<rect x="1621" y="755" width="16" height="15" fill="#86cea5"/>
<rect x="1637" y="755" width="15" height="15" fill="#51abae"/>
<rect x="1652" y="755" width="16" height="15" fill="#61bca7"/>
<rect x="1668" y="755" width="31" height="15" fill="#429ab6"/>
<rect x="1699" y="755" width="15" height="15" fill="#bae3a1"/>
<rect x="1714" y="755" width="16" height="15" fill="#000000"/>
<rect x="1327" y="770" width="15" height="16" fill="#000000"/>
<rect x="1342" y="770" width="16" height="16" fill="#429ab6"/>
<rect x="1358" y="770" width="15" height="16" fill="#75c8a5"/>
<rect x="1373" y="770" width="16" height="16" fill="#51abae"/>
<rect x="1389" y="770" width="15" height="16" fill="#4c66ad"/>
<rect x="1404" y="770" width="16" height="16" fill="#429ab6"/>
<rect x="1420" y="770" width="15" height="16" fill="#4c66ad"/>
<rect x="1435" y="770" width="16" height="16" fill="#429ab6"/>
<rect x="1451" y="770" width="15" height="16" fill="#4c66ad"/>
<rect x="1466" y="770" width="16" height="16" fill="#61bca7"/>
<rect x="1482" y="770" width="15" height="16" fill="#51abae"/>
<rect x="1497" y="770" width="16" height="16" fill="#3288bd"/>
<rect x="1513" y="770" width="31" height="16" fill="#429ab6"/>
<rect x="1544" y="770" width="31" height="16" fill="#51abae"/>
<rect x="1575" y="770" width="15" height="16" fill="#3288bd"/>
<rect x="1590" y="770" width="16" height="16" fill="#429ab6"/>
<rect x="1606" y="770" width="15" height="16" fill="#51abae"/>
<rect x="1621" y="770" width="16" height="16" fill="#3288bd"/>
<rect x="1637" y="770" width="31" height="16" fill="#51abae"/>
<rect x="1668" y="770" width="15" height="16" fill="#429ab6"/>
<rect x="1683" y="770" width="16" height="16" fill="#d4ee9c"/>
<rect x="1699" y="770" width="15" height="16" fill="#86cea5"/>
<rect x="1342" y="786" width="16" height="15" fill="#000000"/>
<rect x="1358" y="786" width="15" height="15" fill="#fff9b4"/>
<rect x="1373" y="786" width="16" height="15" fill="#2a2449"/>
<rect x="1389" y="786" width="15" height="15" fill="#3f77b5"/>
<rect x="1404" y="786" width="31" height="15" fill="#75c8a5"/>
<rect x="1435" y="786" width="16" height="15" fill="#61bca7"/>
<rect x="1451" y="786" width="15" height="15" fill="#3288bd"/>
<rect x="1466" y="786" width="16" height="15" fill="#61bca7"/>
<rect x="1482" y="786" width="15" height="15" fill="#3288bd"/>
<rect x="1497" y="786" width="16" height="15" fill="#75c8a5"/>
<rect x="1513" y="786" width="15" height="15" fill="#3288bd"/>
<rect x="1528" y="786" width="16" height="15" fill="#429ab6"/>
<rect x="1544" y="786" width="15" height="15" fill="#51abae"/>
<rect x="1559" y="786" width="31" height="15" fill="#429ab6"/>
<rect x="1590" y="786" width="16" height="15" fill="#3f77b5"/>
<rect x="1606" y="786" width="31" height="15" fill="#429ab6"/>
<rect x="1637" y="786" width="15" height="15" fill="#51abae"/>
<rect x="1652" y="786" width="16" height="15" fill="#61bca7"/>
<rect x="1668" y="786" width="15" height="15" fill="#429ab6"/>
<rect x="1683" y="786" width="16" height="15" fill="#bae3a1"/>
<rect x="1358" y="801" width="15" height="16" fill="#000000"/>
<rect x="1373" y="801" width="16" height="16" fill="#fdc474"/>
<rect x="1389" y="801" width="15" height="16" fill="#3e346b"/>
<rect x="1404" y="801" width="16" height="16" fill="#2a2449"/>
<rect x="1420" y="801" width="15" height="16" fill="#3f77b5"/>
<rect x="1435" y="801" width="16" height="16" fill="#554792"/>
<rect x="1451" y="801" width="15" height="16" fill="#429ab6"/>
<rect x="1466" y="801" width="16" height="16" fill="#75c8a5"/>
<rect x="1482" y="801" width="31" height="16" fill="#3288bd"/>
<rect x="1513" y="801" width="15" height="16" fill="#61bca7"/>
<rect x="1528" y="801" width="16" height="16" fill="#429ab6"/>
<rect x="1544" y="801" width="15" height="16" fill="#51abae"/>
<rect x="1559" y="801" width="16" height="16" fill="#429ab6"/>
<rect x="1575" y="801" width="31" height="16" fill="#51abae"/>
<rect x="1606" y="801" width="15" height="16" fill="#429ab6"/>
<rect x="1621" y="801" width="16" height="16" fill="#51abae"/>
<rect x="1637" y="801" width="15" height="16" fill="#429ab6"/>
<rect x="1652" y="801" width="16" height="16" fill="#86cea5"/>
<rect x="1668" y="801" width="15" height="16" fill="#51abae"/>
<rect x="1683" y="801" width="16" height="16" fill="#61bca7"/>
<rect x="1404" y="817" width="16" height="15" fill="#fdae61"/>
<rect x="1420" y="817" width="15" height="15" fill="#5e4fa2"/>
<rect x="1435" y="817" width="16" height="15" fill="#554792"/>
<rect x="1451" y="817" width="15" height="15" fill="#429ab6"/>
<rect x="1466" y="817" width="16" height="15" fill="#86cea5"/>
<rect x="1482" y="817" width="15" height="15" fill="#3f77b5"/>
<rect x="1497" y="817" width="16" height="15" fill="#429ab6"/>
<rect x="1513" y="817" width="15" height="15" fill="#5e4fa2"/>
<rect x="1528" y="817" width="16" height="15" fill="#86cea5"/>
<rect x="1544" y="817" width="46" height="15" fill="#51abae"/>
<rect x="1590" y="817" width="16" height="15" fill="#75c8a5"/>
<rect x="1606" y="817" width="15" height="15" fill="#51abae"/>
<rect x="1621" y="817" width="31" height="15" fill="#3288bd"/>
<rect x="1652" y="817" width="16" height="15" fill="#61bca7"/>
<rect x="1668" y="817" width="15" height="15" fill="#51abae"/>
<rect x="1420" y="832" width="15" height="16" fill="#bae3a1"/>
<rect x="1451" y="832" width="31" height="16" fill="#f3faad"/>
<rect x="1482" y="832" width="15" height="16" fill="#554792"/>
<rect x="1497" y="832" width="16" height="16" fill="#d4ee9c"/>
<rect x="1513" y="832" width="15" height="16" fill="#bae3a1"/>
<rect x="1528" y="832" width="16" height="16" fill="#75c8a5"/>
<rect x="1544" y="832" width="15" height="16" fill="#4c66ad"/>
<rect x="1559" y="832" width="16" height="16" fill="#51abae"/>
<rect x="1575" y="832" width="15" height="16" fill="#75c8a5"/>
<rect x="1590" y="832" width="16" height="16" fill="#4c66ad"/>
<rect x="1606" y="832" width="15" height="16" fill="#51abae"/>
<rect x="1621" y="832" width="16" height="16" fill="#429ab6"/>
<rect x="1637" y="832" width="15" height="16" fill="#51abae"/>
<rect x="1652" y="832" width="16" height="16" fill="#61bca7"/>
<rect x="1668" y="832" width="15" height="16" fill="#f3faad"/>
<rect x="1683" y="832" width="16" height="16" fill="#fff9b4"/>
<rect x="1451" y="848" width="15" height="15" fill="#554792"/>
<rect x="1497" y="848" width="16" height="15" fill="#fff9b4"/>
<rect x="1513" y="848" width="15" height="15" fill="#5e4fa2"/>
<rect x="1528" y="848" width="16" height="15" fill="#fee18d"/>
<rect x="1544" y="848" width="15" height="15" fill="#51abae"/>
<rect x="1559" y="848" width="31" height="15" fill="#5e4fa2"/>
<rect x="1590" y="848" width="16" height="15" fill="#3288bd"/>
<rect x="1606" y="848" width="15" height="15" fill="#51abae"/>
<rect x="1621" y="848" width="16" height="15" fill="#3f77b5"/>
<rect x="1637" y="848" width="15" height="15" fill="#51abae"/>
<rect x="1652" y="848" width="16" height="15" fill="#3f77b5"/>
<rect x="1668" y="848" width="15" height="15" fill="#51abae"/>
<rect x="1389" y="863" width="15" height="16" fill="#000000"/>
<rect x="1420" y="863" width="15" height="16" fill="#000000"/>
<rect x="1497" y="863" width="16" height="16" fill="#86cea5"/>
<rect x="1513" y="863" width="15" height="16" fill="#000000"/>
<rect x="1528" y="863" width="16" height="16" fill="#75c8a5"/>
<rect x="1544" y="863" width="31" height="16" fill="#4c66ad"/>
<rect x="1575" y="863" width="15" height="16" fill="#554792"/>
<rect x="1590" y="863" width="16" height="16" fill="#5e4fa2"/>
<rect x="1606" y="863" width="15" height="16" fill="#429ab6"/>
<rect x="1621" y="863" width="16" height="16" fill="#61bca7"/>
<rect x="1637" y="863" width="15" height="16" fill="#3f77b5"/>
<rect x="1652" y="863" width="16" height="16" fill="#4c66ad"/>
<rect x="1668" y="863" width="15" height="16" fill="#75c8a5"/>
<rect x="1683" y="863" width="16" height="16" fill="#3288bd"/>
<rect x="1528" y="879" width="16" height="15" fill="#000000"/>
<rect x="1559" y="879" width="16" height="15" fill="#2a2449"/>
<rect x="1575" y="879" width="15" height="15" fill="#000000"/>
<rect x="1590" y="879" width="16" height="15" fill="#4c66ad"/>
<rect x="1606" y="879" width="15" height="15" fill="#5e4fa2"/>
<rect x="1621" y="879" width="16" height="15" fill="#3e346b"/>
<rect x="1637" y="879" width="15" height="15" fill="#f3faad"/>
<rect x="1652" y="879" width="31" height="15" fill="#86cea5"/>
<rect x="1559" y="894" width="16" height="16" fill="#f3faad"/>
<rect x="1575" y="894" width="15" height="16" fill="#000000"/>
<rect x="1590" y="894" width="16" height="16" fill="#75c8a5"/>
<rect x="1606" y="894" width="15" height="16" fill="#4c66ad"/>
<rect x="1621" y="894" width="16" height="16" fill="#2a2449"/>
<rect x="1637" y="894" width="15" height="16" fill="#4c66ad"/>
<rect x="1652" y="894" width="16" height="16" fill="#86cea5"/>
<rect x="1668" y="894" width="15" height="16" fill="#d4ee9c"/>
<rect x="1683" y="894" width="16" height="16" fill="#000000"/></g>
<g clip-path="url(#c1)"><path d="M236.0 306.5C238.2 305.8 243.0 304.4 249.5 302.5C256.0 300.6 265.8 296.7 275.0 295.0C284.2 293.3 295.0 293.2 305.0 292.5C315.0 291.8 326.2 291.2 335.0 290.8C343.8 290.4 350.5 289.3 358.0 289.8C365.5 290.3 373.9 292.3 380.0 293.6C386.1 294.9 389.7 295.6 394.6 297.5C399.5 299.4 404.4 301.6 409.2 304.8C414.0 308.0 419.3 312.4 423.7 316.5C428.1 320.6 432.0 325.0 435.4 329.6C438.8 334.2 441.5 339.4 444.2 344.2C446.9 349.0 449.2 353.8 451.4 358.7C453.6 363.6 455.1 368.4 457.3 373.3C459.5 378.2 462.2 383.0 464.6 387.9C467.0 392.8 469.6 397.6 471.9 402.5C474.2 407.4 476.7 412.7 478.4 417.1C480.1 421.5 481.5 425.1 482.1 428.7C482.7 432.3 482.8 435.7 482.1 438.9C481.4 442.1 480.1 445.1 477.7 447.7C475.3 450.3 471.6 452.9 467.5 454.3C463.4 455.8 457.8 456.3 452.9 456.4C448.0 456.5 443.2 455.7 438.3 455.0C433.4 454.3 428.6 453.2 423.7 452.1C418.8 451.0 414.0 449.8 409.2 448.4C404.4 447.0 399.6 445.5 394.6 444.0C389.6 442.5 388.5 443.0 379.3 439.2C370.1 435.4 353.2 428.4 339.3 421.3C325.4 414.2 310.2 405.4 296.0 396.3C281.8 387.2 264.3 374.4 254.3 367.0C244.3 359.6 239.1 354.5 236.0 352.0" fill="none" stroke="#000" stroke-width="7.3"/>
<path d="M236.0 255.0C238.2 254.4 242.9 253.6 249.5 251.5C256.1 249.4 266.4 247.2 275.4 242.4C284.4 237.6 294.2 230.4 303.7 222.9C313.1 215.4 322.7 204.4 332.1 197.3C341.6 190.2 351.0 184.3 360.4 180.1C369.8 175.9 379.2 173.1 388.7 172.1C398.1 171.1 406.5 172.2 417.1 174.1C427.7 176.0 440.7 179.3 452.5 183.4C464.3 187.5 476.1 191.6 487.9 198.8C499.7 206.0 511.9 217.2 523.3 226.4C534.6 235.7 547.8 247.0 556.0 254.3C564.2 261.6 567.2 264.2 572.7 270.0C578.2 275.8 583.8 282.1 589.3 289.0C594.8 295.9 600.4 303.7 606.0 311.5C611.6 319.3 617.7 328.9 622.7 336.0C627.7 343.1 632.1 349.0 636.0 354.3C639.9 359.6 643.0 364.3 646.0 367.7C649.0 371.1 650.2 371.4 653.8 374.6C657.4 377.8 663.0 382.9 667.6 387.0C672.2 391.1 677.7 395.8 681.4 399.5C685.1 403.2 687.9 406.0 689.7 409.2C691.5 412.4 692.4 415.4 692.2 418.8C692.0 422.2 690.6 426.4 688.4 429.9C686.1 433.4 682.6 436.6 678.7 439.6C674.8 442.6 669.5 445.5 664.9 447.8C660.3 450.1 655.3 451.9 651.0 453.4C646.7 454.9 644.0 455.3 639.3 456.8C634.6 458.3 628.2 460.3 622.7 462.2C617.2 464.1 611.6 465.9 606.0 468.0C600.4 470.1 594.8 471.9 589.3 474.7C583.8 477.5 578.2 481.4 572.7 484.7C567.2 488.0 561.3 491.7 556.0 494.7C550.7 497.7 547.6 500.6 541.0 502.5C534.4 504.4 525.1 506.4 516.2 506.3C507.4 506.2 498.5 504.3 487.9 502.0C477.3 499.7 464.3 496.0 452.5 492.5C440.7 489.0 428.9 484.2 417.1 481.0C405.3 477.8 392.1 476.3 381.6 473.0C371.1 469.7 363.0 466.0 354.3 461.3C345.6 456.6 339.0 450.8 329.3 444.7C319.6 438.6 307.1 431.2 296.0 424.7C284.9 418.2 271.0 409.6 262.7 405.5C254.4 401.4 250.4 401.4 246.0 400.0C241.6 398.6 237.7 397.5 236.0 397.0" fill="none" stroke="#000" stroke-width="5.3"/>
<path d="M238.0 213.0C239.5 211.4 243.2 207.7 247.1 203.4C251.0 199.2 256.5 193.1 261.2 187.5C265.9 181.9 271.8 175.1 275.4 169.8C278.9 164.5 280.6 159.6 282.5 155.6C284.4 151.6 286.2 147.6 287.0 146.0" fill="none" stroke="#000" stroke-width="2.7"/>
<path d="M531.0 148.0C531.8 149.3 531.5 150.1 535.7 155.6C539.9 161.1 549.8 172.8 556.0 180.9C562.2 189.0 567.2 196.2 572.7 203.9C578.2 211.6 583.8 219.2 589.3 226.8C594.8 234.5 600.4 242.1 606.0 249.8C611.6 257.5 617.2 265.2 622.7 272.8C628.2 280.4 634.9 289.5 639.3 295.7C643.7 301.9 646.0 305.1 649.3 310.0C652.6 314.9 656.0 320.1 659.3 325.0C662.6 329.9 665.6 334.9 669.3 339.3C673.0 343.7 677.1 347.3 681.4 351.1C685.7 354.9 690.7 358.8 695.3 362.2C699.9 365.6 704.5 368.7 709.1 371.8C713.7 374.9 718.8 378.0 722.9 380.8C727.0 383.6 730.8 385.5 734.0 388.4C737.2 391.3 740.0 394.6 742.2 398.1C744.4 401.6 746.1 405.8 747.1 409.2C748.1 412.6 748.6 415.6 748.5 418.8C748.4 422.0 747.0 425.3 746.4 428.5C745.8 431.7 744.9 435.2 745.0 438.2C745.1 441.2 745.7 444.0 747.1 446.5C748.5 449.0 750.4 451.0 753.3 453.4C756.2 455.8 760.2 458.6 764.4 461.0C768.5 463.4 772.3 465.1 778.2 467.9C784.1 470.6 792.6 473.6 800.0 477.5C807.4 481.4 813.4 485.1 822.7 491.3C832.0 497.5 848.9 508.6 856.0 514.7C863.1 520.8 864.4 523.6 865.5 528.0C866.6 532.4 865.4 537.1 862.7 541.3C860.0 545.5 856.0 549.7 849.3 553.0C842.6 556.3 835.5 558.7 822.7 561.3C809.9 563.9 789.4 567.0 772.7 568.8C756.0 570.6 739.4 571.9 722.7 572.2C706.0 572.5 689.4 571.5 672.7 570.5C656.0 569.5 636.6 567.3 622.7 566.3C608.8 565.3 600.4 564.8 589.3 564.7C578.2 564.6 568.8 565.1 556.0 565.5C543.2 565.9 525.5 568.2 512.7 567.2C499.9 566.2 489.0 562.9 479.3 559.7C469.6 556.5 462.6 552.2 454.3 548.0C446.0 543.8 436.2 537.6 429.3 534.7C422.4 531.8 421.0 531.6 412.7 530.5C404.4 529.4 390.4 530.1 379.3 528.0C368.2 525.9 357.1 523.3 346.0 518.0C334.9 512.7 323.8 503.2 312.7 496.3C301.6 489.4 289.9 481.0 279.3 476.3C268.7 471.6 256.5 469.7 249.3 468.0C242.1 466.3 238.2 466.3 236.0 466.0" fill="none" stroke="#000" stroke-width="2.7"/><polyline points="245.7,747.1 729.2,747.1 781.0,721.7 901.9,759.7 1005.5,759.7" fill="none" stroke="#000" stroke-width="6.4" stroke-linejoin="miter"/></g>
<g clip-path="url(#c2)"><polyline points="1031.9,747.1 1515.4,747.1 1567.2,721.7 1688.1,759.7 1791.7,759.7" fill="none" stroke="#000" stroke-width="6.4" stroke-linejoin="miter"/></g>
<path d="M245.7 911.7v-9.5M245.7 151.8v9.5" stroke="#000" stroke-width="4.5"/>
<path d="M314.8 911.7v-9.5M314.8 151.8v9.5" stroke="#000" stroke-width="4.5"/>
<path d="M349.3 911.7v-9.5M349.3 151.8v9.5" stroke="#000" stroke-width="4.5"/>
<path d="M383.8 911.7v-9.5M383.8 151.8v9.5" stroke="#000" stroke-width="4.5"/>
<path d="M418.4 911.7v-9.5M418.4 151.8v9.5" stroke="#000" stroke-width="4.5"/>
<path d="M487.5 911.7v-9.5M487.5 151.8v9.5" stroke="#000" stroke-width="4.5"/>
<path d="M522.0 911.7v-9.5M522.0 151.8v9.5" stroke="#000" stroke-width="4.5"/>
<path d="M556.5 911.7v-9.5M556.5 151.8v9.5" stroke="#000" stroke-width="4.5"/>
<path d="M591.1 911.7v-9.5M591.1 151.8v9.5" stroke="#000" stroke-width="4.5"/>
<path d="M660.1 911.7v-9.5M660.1 151.8v9.5" stroke="#000" stroke-width="4.5"/>
<path d="M694.7 911.7v-9.5M694.7 151.8v9.5" stroke="#000" stroke-width="4.5"/>
<path d="M729.2 911.7v-9.5M729.2 151.8v9.5" stroke="#000" stroke-width="4.5"/>
<path d="M763.7 911.7v-9.5M763.7 151.8v9.5" stroke="#000" stroke-width="4.5"/>
<path d="M832.8 911.7v-9.5M832.8 151.8v9.5" stroke="#000" stroke-width="4.5"/>
<path d="M867.4 911.7v-9.5M867.4 151.8v9.5" stroke="#000" stroke-width="4.5"/>
<path d="M901.9 911.7v-9.5M901.9 151.8v9.5" stroke="#000" stroke-width="4.5"/>
<path d="M936.4 911.7v-9.5M936.4 151.8v9.5" stroke="#000" stroke-width="4.5"/>
<path d="M1005.5 911.7v-9.5M1005.5 151.8v9.5" stroke="#000" stroke-width="4.5"/>
<path d="M280.2 911.7v-16.2M280.2 151.8v16.2" stroke="#000" stroke-width="7.0"/>
<path d="M452.9 911.7v-16.2M452.9 151.8v16.2" stroke="#000" stroke-width="7.0"/>
<path d="M625.6 911.7v-16.2M625.6 151.8v16.2" stroke="#000" stroke-width="7.0"/>
<path d="M798.3 911.7v-16.2M798.3 151.8v16.2" stroke="#000" stroke-width="7.0"/>
<path d="M971.0 911.7v-16.2M971.0 151.8v16.2" stroke="#000" stroke-width="7.0"/>
<path d="M245.7 886.4h9.5M1005.5 886.4h-9.5" stroke="#000" stroke-width="4.5"/>
<path d="M245.7 861.0h9.5M1005.5 861.0h-9.5" stroke="#000" stroke-width="4.5"/>
<path d="M245.7 835.7h9.5M1005.5 835.7h-9.5" stroke="#000" stroke-width="4.5"/>
<path d="M245.7 810.4h9.5M1005.5 810.4h-9.5" stroke="#000" stroke-width="4.5"/>
<path d="M245.7 759.7h9.5M1005.5 759.7h-9.5" stroke="#000" stroke-width="4.5"/>
<path d="M245.7 734.4h9.5M1005.5 734.4h-9.5" stroke="#000" stroke-width="4.5"/>
<path d="M245.7 709.1h9.5M1005.5 709.1h-9.5" stroke="#000" stroke-width="4.5"/>
<path d="M245.7 683.7h9.5M1005.5 683.7h-9.5" stroke="#000" stroke-width="4.5"/>
<path d="M245.7 633.1h9.5M1005.5 633.1h-9.5" stroke="#000" stroke-width="4.5"/>
<path d="M245.7 607.7h9.5M1005.5 607.7h-9.5" stroke="#000" stroke-width="4.5"/>
<path d="M245.7 582.4h9.5M1005.5 582.4h-9.5" stroke="#000" stroke-width="4.5"/>
<path d="M245.7 557.1h9.5M1005.5 557.1h-9.5" stroke="#000" stroke-width="4.5"/>
<path d="M245.7 506.4h9.5M1005.5 506.4h-9.5" stroke="#000" stroke-width="4.5"/>
<path d="M245.7 481.1h9.5M1005.5 481.1h-9.5" stroke="#000" stroke-width="4.5"/>
<path d="M245.7 455.8h9.5M1005.5 455.8h-9.5" stroke="#000" stroke-width="4.5"/>
<path d="M245.7 430.4h9.5M1005.5 430.4h-9.5" stroke="#000" stroke-width="4.5"/>
<path d="M245.7 379.8h9.5M1005.5 379.8h-9.5" stroke="#000" stroke-width="4.5"/>
<path d="M245.7 354.4h9.5M1005.5 354.4h-9.5" stroke="#000" stroke-width="4.5"/>
<path d="M245.7 329.1h9.5M1005.5 329.1h-9.5" stroke="#000" stroke-width="4.5"/>
<path d="M245.7 303.8h9.5M1005.5 303.8h-9.5" stroke="#000" stroke-width="4.5"/>
<path d="M245.7 253.1h9.5M1005.5 253.1h-9.5" stroke="#000" stroke-width="4.5"/>
<path d="M245.7 227.8h9.5M1005.5 227.8h-9.5" stroke="#000" stroke-width="4.5"/>
<path d="M245.7 202.5h9.5M1005.5 202.5h-9.5" stroke="#000" stroke-width="4.5"/>
<path d="M245.7 177.1h9.5M1005.5 177.1h-9.5" stroke="#000" stroke-width="4.5"/>
<path d="M245.7 911.7h16.2M1005.5 911.7h-16.2" stroke="#000" stroke-width="7.0"/>
<path d="M245.7 785.0h16.2M1005.5 785.0h-16.2" stroke="#000" stroke-width="7.0"/>
<path d="M245.7 658.4h16.2M1005.5 658.4h-16.2" stroke="#000" stroke-width="7.0"/>
<path d="M245.7 531.8h16.2M1005.5 531.8h-16.2" stroke="#000" stroke-width="7.0"/>
<path d="M245.7 405.1h16.2M1005.5 405.1h-16.2" stroke="#000" stroke-width="7.0"/>
<path d="M245.7 278.4h16.2M1005.5 278.4h-16.2" stroke="#000" stroke-width="7.0"/>
<path d="M245.7 151.8h16.2M1005.5 151.8h-16.2" stroke="#000" stroke-width="7.0"/>
<rect x="245.7" y="151.8" width="759.8" height="759.9" fill="none" stroke="#000" stroke-width="6.6"/>
<text x="280.2" y="963.4" text-anchor="middle" font-size="44.4">−1.5</text>
<text x="452.9" y="963.4" text-anchor="middle" font-size="44.4">−1.0</text>
<text x="625.6" y="963.4" text-anchor="middle" font-size="44.4">−0.5</text>
<text x="798.3" y="963.4" text-anchor="middle" font-size="44.4">0.0</text>
<text x="971.0" y="963.4" text-anchor="middle" font-size="44.4">0.5</text>
<text x="230.1" y="928.9" text-anchor="end" font-size="44.4">−0.05</text>
<text x="230.1" y="802.2" text-anchor="end" font-size="44.4">0.00</text>
<text x="230.1" y="675.6" text-anchor="end" font-size="44.4">0.05</text>
<text x="230.1" y="549.0" text-anchor="end" font-size="44.4">0.10</text>
<text x="230.1" y="422.3" text-anchor="end" font-size="44.4">0.15</text>
<text x="230.1" y="295.6" text-anchor="end" font-size="44.4">0.20</text>
<text x="230.1" y="169.0" text-anchor="end" font-size="44.4">0.25</text>
<text x="625.6" y="1033.1" text-anchor="middle" font-size="53.3">[Fe/H]</text>
<path d="M1031.9 911.7v-9.5M1031.9 151.8v9.5" stroke="#000" stroke-width="4.5"/>
<path d="M1101.0 911.7v-9.5M1101.0 151.8v9.5" stroke="#000" stroke-width="4.5"/>
<path d="M1135.5 911.7v-9.5M1135.5 151.8v9.5" stroke="#000" stroke-width="4.5"/>
<path d="M1170.0 911.7v-9.5M1170.0 151.8v9.5" stroke="#000" stroke-width="4.5"/>
<path d="M1204.6 911.7v-9.5M1204.6 151.8v9.5" stroke="#000" stroke-width="4.5"/>
<path d="M1273.7 911.7v-9.5M1273.7 151.8v9.5" stroke="#000" stroke-width="4.5"/>
<path d="M1308.2 911.7v-9.5M1308.2 151.8v9.5" stroke="#000" stroke-width="4.5"/>
<path d="M1342.7 911.7v-9.5M1342.7 151.8v9.5" stroke="#000" stroke-width="4.5"/>
<path d="M1377.3 911.7v-9.5M1377.3 151.8v9.5" stroke="#000" stroke-width="4.5"/>
<path d="M1446.3 911.7v-9.5M1446.3 151.8v9.5" stroke="#000" stroke-width="4.5"/>
<path d="M1480.9 911.7v-9.5M1480.9 151.8v9.5" stroke="#000" stroke-width="4.5"/>
<path d="M1515.4 911.7v-9.5M1515.4 151.8v9.5" stroke="#000" stroke-width="4.5"/>
<path d="M1549.9 911.7v-9.5M1549.9 151.8v9.5" stroke="#000" stroke-width="4.5"/>
<path d="M1619.0 911.7v-9.5M1619.0 151.8v9.5" stroke="#000" stroke-width="4.5"/>
<path d="M1653.6 911.7v-9.5M1653.6 151.8v9.5" stroke="#000" stroke-width="4.5"/>
<path d="M1688.1 911.7v-9.5M1688.1 151.8v9.5" stroke="#000" stroke-width="4.5"/>
<path d="M1722.6 911.7v-9.5M1722.6 151.8v9.5" stroke="#000" stroke-width="4.5"/>
<path d="M1791.7 911.7v-9.5M1791.7 151.8v9.5" stroke="#000" stroke-width="4.5"/>
<path d="M1066.4 911.7v-16.2M1066.4 151.8v16.2" stroke="#000" stroke-width="7.0"/>
<path d="M1239.1 911.7v-16.2M1239.1 151.8v16.2" stroke="#000" stroke-width="7.0"/>
<path d="M1411.8 911.7v-16.2M1411.8 151.8v16.2" stroke="#000" stroke-width="7.0"/>
<path d="M1584.5 911.7v-16.2M1584.5 151.8v16.2" stroke="#000" stroke-width="7.0"/>
<path d="M1757.2 911.7v-16.2M1757.2 151.8v16.2" stroke="#000" stroke-width="7.0"/>
<path d="M1031.9 886.4h9.5M1791.7 886.4h-9.5" stroke="#000" stroke-width="4.5"/>
<path d="M1031.9 861.0h9.5M1791.7 861.0h-9.5" stroke="#000" stroke-width="4.5"/>
<path d="M1031.9 835.7h9.5M1791.7 835.7h-9.5" stroke="#000" stroke-width="4.5"/>
<path d="M1031.9 810.4h9.5M1791.7 810.4h-9.5" stroke="#000" stroke-width="4.5"/>
<path d="M1031.9 759.7h9.5M1791.7 759.7h-9.5" stroke="#000" stroke-width="4.5"/>
<path d="M1031.9 734.4h9.5M1791.7 734.4h-9.5" stroke="#000" stroke-width="4.5"/>
<path d="M1031.9 709.1h9.5M1791.7 709.1h-9.5" stroke="#000" stroke-width="4.5"/>
<path d="M1031.9 683.7h9.5M1791.7 683.7h-9.5" stroke="#000" stroke-width="4.5"/>
<path d="M1031.9 633.1h9.5M1791.7 633.1h-9.5" stroke="#000" stroke-width="4.5"/>
<path d="M1031.9 607.7h9.5M1791.7 607.7h-9.5" stroke="#000" stroke-width="4.5"/>
<path d="M1031.9 582.4h9.5M1791.7 582.4h-9.5" stroke="#000" stroke-width="4.5"/>
<path d="M1031.9 557.1h9.5M1791.7 557.1h-9.5" stroke="#000" stroke-width="4.5"/>
<path d="M1031.9 506.4h9.5M1791.7 506.4h-9.5" stroke="#000" stroke-width="4.5"/>
<path d="M1031.9 481.1h9.5M1791.7 481.1h-9.5" stroke="#000" stroke-width="4.5"/>
<path d="M1031.9 455.8h9.5M1791.7 455.8h-9.5" stroke="#000" stroke-width="4.5"/>
<path d="M1031.9 430.4h9.5M1791.7 430.4h-9.5" stroke="#000" stroke-width="4.5"/>
<path d="M1031.9 379.8h9.5M1791.7 379.8h-9.5" stroke="#000" stroke-width="4.5"/>
<path d="M1031.9 354.4h9.5M1791.7 354.4h-9.5" stroke="#000" stroke-width="4.5"/>
<path d="M1031.9 329.1h9.5M1791.7 329.1h-9.5" stroke="#000" stroke-width="4.5"/>
<path d="M1031.9 303.8h9.5M1791.7 303.8h-9.5" stroke="#000" stroke-width="4.5"/>
<path d="M1031.9 253.1h9.5M1791.7 253.1h-9.5" stroke="#000" stroke-width="4.5"/>
<path d="M1031.9 227.8h9.5M1791.7 227.8h-9.5" stroke="#000" stroke-width="4.5"/>
<path d="M1031.9 202.5h9.5M1791.7 202.5h-9.5" stroke="#000" stroke-width="4.5"/>
<path d="M1031.9 177.1h9.5M1791.7 177.1h-9.5" stroke="#000" stroke-width="4.5"/>
<path d="M1031.9 911.7h16.2M1791.7 911.7h-16.2" stroke="#000" stroke-width="7.0"/>
<path d="M1031.9 785.0h16.2M1791.7 785.0h-16.2" stroke="#000" stroke-width="7.0"/>
<path d="M1031.9 658.4h16.2M1791.7 658.4h-16.2" stroke="#000" stroke-width="7.0"/>
<path d="M1031.9 531.8h16.2M1791.7 531.8h-16.2" stroke="#000" stroke-width="7.0"/>
<path d="M1031.9 405.1h16.2M1791.7 405.1h-16.2" stroke="#000" stroke-width="7.0"/>
<path d="M1031.9 278.4h16.2M1791.7 278.4h-16.2" stroke="#000" stroke-width="7.0"/>
<path d="M1031.9 151.8h16.2M1791.7 151.8h-16.2" stroke="#000" stroke-width="7.0"/>
<rect x="1031.9" y="151.8" width="759.8" height="759.9" fill="none" stroke="#000" stroke-width="6.6"/>
<text x="1066.4" y="963.4" text-anchor="middle" font-size="44.4">−1.5</text>
<text x="1239.1" y="963.4" text-anchor="middle" font-size="44.4">−1.0</text>
<text x="1411.8" y="963.4" text-anchor="middle" font-size="44.4">−0.5</text>
<text x="1584.5" y="963.4" text-anchor="middle" font-size="44.4">0.0</text>
<text x="1757.2" y="963.4" text-anchor="middle" font-size="44.4">0.5</text>
<text x="1411.8" y="1033.1" text-anchor="middle" font-size="53.3">[Fe/H]</text>
<defs><linearGradient id="cb" x1="0" x2="1" y1="0" y2="0"><stop offset="0.000" stop-color="#9e0142"/><stop offset="0.010" stop-color="#a70b44"/><stop offset="0.020" stop-color="#af1446"/><stop offset="0.030" stop-color="#b81e48"/><stop offset="0.040" stop-color="#c0274a"/><stop offset="0.050" stop-color="#c9314c"/><stop offset="0.060" stop-color="#d13a4e"/><stop offset="0.070" stop-color="#d8424e"/><stop offset="0.080" stop-color="#dd4a4c"/><stop offset="0.090" stop-color="#e1514a"/><stop offset="0.100" stop-color="#e65848"/><stop offset="0.110" stop-color="#eb6046"/><stop offset="0.120" stop-color="#f06745"/><stop offset="0.130" stop-color="#f46f44"/><stop offset="0.140" stop-color="#f67948"/><stop offset="0.150" stop-color="#f7834d"/><stop offset="0.160" stop-color="#f88d52"/><stop offset="0.170" stop-color="#fa9756"/><stop offset="0.180" stop-color="#fba15b"/><stop offset="0.190" stop-color="#fdab60"/><stop offset="0.200" stop-color="#fdb466"/><stop offset="0.210" stop-color="#fdbc6c"/><stop offset="0.220" stop-color="#fdc373"/><stop offset="0.230" stop-color="#fecb79"/><stop offset="0.240" stop-color="#fed380"/><stop offset="0.250" stop-color="#fedb87"/><stop offset="0.260" stop-color="#fee28e"/><stop offset="0.270" stop-color="#fee696"/><stop offset="0.280" stop-color="#feeb9e"/><stop offset="0.290" stop-color="#fff0a6"/><stop offset="0.300" stop-color="#fff5ae"/><stop offset="0.310" stop-color="#fffab6"/><stop offset="0.320" stop-color="#ffffbe"/><stop offset="0.330" stop-color="#fbfeba"/><stop offset="0.340" stop-color="#f8fcb3"/><stop offset="0.350" stop-color="#f4faad"/><stop offset="0.360" stop-color="#f0f9a7"/><stop offset="0.370" stop-color="#ecf7a1"/><stop offset="0.380" stop-color="#e8f69b"/><stop offset="0.390" stop-color="#e2f399"/><stop offset="0.400" stop-color="#d8ef9b"/><stop offset="0.410" stop-color="#cfec9d"/><stop offset="0.420" stop-color="#c6e89f"/><stop offset="0.430" stop-color="#bde4a0"/><stop offset="0.440" stop-color="#b4e1a2"/><stop offset="0.450" stop-color="#aadda4"/><stop offset="0.460" stop-color="#a0d9a4"/><stop offset="0.470" stop-color="#95d4a4"/><stop offset="0.480" stop-color="#8ad0a4"/><stop offset="0.490" stop-color="#7fcca5"/><stop offset="0.500" stop-color="#75c8a5"/><stop offset="0.510" stop-color="#6ac4a5"/><stop offset="0.520" stop-color="#61bca7"/><stop offset="0.530" stop-color="#59b3ab"/><stop offset="0.540" stop-color="#51aaaf"/><stop offset="0.550" stop-color="#49a1b3"/><stop offset="0.560" stop-color="#4098b6"/><stop offset="0.570" stop-color="#388fba"/><stop offset="0.580" stop-color="#3486bc"/><stop offset="0.590" stop-color="#3a7db8"/><stop offset="0.600" stop-color="#4174b4"/><stop offset="0.610" stop-color="#486baf"/><stop offset="0.620" stop-color="#4f63ab"/><stop offset="0.630" stop-color="#565aa7"/><stop offset="0.640" stop-color="#5d51a3"/><stop offset="0.650" stop-color="#5c4d9e"/><stop offset="0.660" stop-color="#594b9a"/><stop offset="0.670" stop-color="#574995"/><stop offset="0.680" stop-color="#544791"/><stop offset="0.690" stop-color="#51448c"/><stop offset="0.700" stop-color="#4f4288"/><stop offset="0.710" stop-color="#4c4083"/><stop offset="0.720" stop-color="#4a3e7f"/><stop offset="0.730" stop-color="#473c7a"/><stop offset="0.740" stop-color="#443976"/><stop offset="0.750" stop-color="#423771"/><stop offset="0.760" stop-color="#3f356d"/><stop offset="0.770" stop-color="#3c3368"/><stop offset="0.780" stop-color="#3a3164"/><stop offset="0.790" stop-color="#372e5f"/><stop offset="0.800" stop-color="#352c5b"/><stop offset="0.810" stop-color="#322a56"/><stop offset="0.820" stop-color="#2f2851"/><stop offset="0.830" stop-color="#2d264d"/><stop offset="0.840" stop-color="#2a2348"/><stop offset="0.850" stop-color="#272144"/><stop offset="0.860" stop-color="#251f3f"/><stop offset="0.870" stop-color="#221d3b"/><stop offset="0.880" stop-color="#201a36"/><stop offset="0.890" stop-color="#1d1832"/><stop offset="0.900" stop-color="#1a162d"/><stop offset="0.910" stop-color="#181429"/><stop offset="0.920" stop-color="#151224"/><stop offset="0.930" stop-color="#120f20"/><stop offset="0.940" stop-color="#100d1b"/><stop offset="0.950" stop-color="#0d0b17"/><stop offset="0.960" stop-color="#0b0912"/><stop offset="0.970" stop-color="#08070e"/><stop offset="0.980" stop-color="#050409"/><stop offset="0.990" stop-color="#030205"/><stop offset="1.000" stop-color="#000000"/></linearGradient></defs>
<rect x="245.6" y="1111.8" width="1546.0" height="49.5" fill="url(#cb)"/>
<path d="M400.2 1161.3v-16.2" stroke="#000" stroke-width="7"/>
<path d="M554.8 1161.3v-16.2" stroke="#000" stroke-width="7"/>
<path d="M709.4 1161.3v-16.2" stroke="#000" stroke-width="7"/>
<path d="M864.0 1161.3v-16.2" stroke="#000" stroke-width="7"/>
<path d="M1018.6 1161.3v-16.2" stroke="#000" stroke-width="7"/>
<path d="M1173.2 1161.3v-16.2" stroke="#000" stroke-width="7"/>
<path d="M1327.8 1161.3v-16.2" stroke="#000" stroke-width="7"/>
<path d="M1482.4 1161.3v-16.2" stroke="#000" stroke-width="7"/>
<path d="M1637.0 1161.3v-16.2" stroke="#000" stroke-width="7"/>
<rect x="245.6" y="1111.8" width="1546.0" height="49.5" fill="none" stroke="#000" stroke-width="6.6"/>
<text x="245.6" y="1213.9" text-anchor="middle" font-size="44.4">0</text>
<text x="400.2" y="1213.9" text-anchor="middle" font-size="44.4">10</text>
<text x="554.8" y="1213.9" text-anchor="middle" font-size="44.4">20</text>
<text x="709.4" y="1213.9" text-anchor="middle" font-size="44.4">30</text>
<text x="864.0" y="1213.9" text-anchor="middle" font-size="44.4">40</text>
<text x="1018.6" y="1213.9" text-anchor="middle" font-size="44.4">50</text>
<text x="1173.2" y="1213.9" text-anchor="middle" font-size="44.4">60</text>
<text x="1327.8" y="1213.9" text-anchor="middle" font-size="44.4">70</text>
<text x="1482.4" y="1213.9" text-anchor="middle" font-size="44.4">80</text>
<text x="1637.0" y="1213.9" text-anchor="middle" font-size="44.4">90</text>
<text x="1791.6" y="1213.9" text-anchor="middle" font-size="44.4">100</text>
<text x="1018.6" y="1283" text-anchor="middle" font-size="53.3">Percentage of <tspan font-style="italic">in-situ</tspan> stars</text>
</svg></body></html>
